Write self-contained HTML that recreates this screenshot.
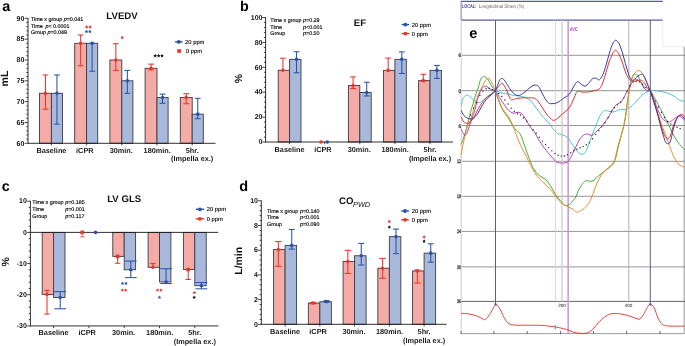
<!DOCTYPE html><html><head><meta charset="utf-8"><style>html,body{margin:0;padding:0;background:#fff;}svg{display:block;will-change:transform;}text{font-family:"Liberation Sans",sans-serif;text-rendering:geometricPrecision;}</style></head><body>
<svg width="685" height="346" viewBox="0 0 685 346">
<rect width="685" height="346" fill="#fff"/>
<text x="2.30" y="11.20" font-size="14.5" font-weight="bold" text-anchor="start" fill="#000" >a</text>
<text x="122.00" y="19.30" font-size="9.6" font-weight="bold" text-anchor="middle" fill="#111" >LVEDV</text>
<text transform="translate(8.4,78.5) rotate(-90)" font-size="10.6" font-weight="bold" text-anchor="middle" fill="#111">mL</text>
<line x1="28.00" y1="17.90" x2="28.00" y2="143.80" stroke="#1a1a1a" stroke-width="0.9" />
<line x1="24.70" y1="143.30" x2="28.00" y2="143.30" stroke="#1a1a1a" stroke-width="0.8" />
<line x1="26.30" y1="139.13" x2="28.00" y2="139.13" stroke="#1a1a1a" stroke-width="0.8" />
<line x1="26.30" y1="134.97" x2="28.00" y2="134.97" stroke="#1a1a1a" stroke-width="0.8" />
<line x1="26.30" y1="130.80" x2="28.00" y2="130.80" stroke="#1a1a1a" stroke-width="0.8" />
<line x1="26.30" y1="126.63" x2="28.00" y2="126.63" stroke="#1a1a1a" stroke-width="0.8" />
<line x1="24.70" y1="122.47" x2="28.00" y2="122.47" stroke="#1a1a1a" stroke-width="0.8" />
<line x1="26.30" y1="118.30" x2="28.00" y2="118.30" stroke="#1a1a1a" stroke-width="0.8" />
<line x1="26.30" y1="114.13" x2="28.00" y2="114.13" stroke="#1a1a1a" stroke-width="0.8" />
<line x1="26.30" y1="109.97" x2="28.00" y2="109.97" stroke="#1a1a1a" stroke-width="0.8" />
<line x1="26.30" y1="105.80" x2="28.00" y2="105.80" stroke="#1a1a1a" stroke-width="0.8" />
<line x1="24.70" y1="101.63" x2="28.00" y2="101.63" stroke="#1a1a1a" stroke-width="0.8" />
<line x1="26.30" y1="97.47" x2="28.00" y2="97.47" stroke="#1a1a1a" stroke-width="0.8" />
<line x1="26.30" y1="93.30" x2="28.00" y2="93.30" stroke="#1a1a1a" stroke-width="0.8" />
<line x1="26.30" y1="89.13" x2="28.00" y2="89.13" stroke="#1a1a1a" stroke-width="0.8" />
<line x1="26.30" y1="84.97" x2="28.00" y2="84.97" stroke="#1a1a1a" stroke-width="0.8" />
<line x1="24.70" y1="80.80" x2="28.00" y2="80.80" stroke="#1a1a1a" stroke-width="0.8" />
<line x1="26.30" y1="76.63" x2="28.00" y2="76.63" stroke="#1a1a1a" stroke-width="0.8" />
<line x1="26.30" y1="72.47" x2="28.00" y2="72.47" stroke="#1a1a1a" stroke-width="0.8" />
<line x1="26.30" y1="68.30" x2="28.00" y2="68.30" stroke="#1a1a1a" stroke-width="0.8" />
<line x1="26.30" y1="64.13" x2="28.00" y2="64.13" stroke="#1a1a1a" stroke-width="0.8" />
<line x1="24.70" y1="59.97" x2="28.00" y2="59.97" stroke="#1a1a1a" stroke-width="0.8" />
<line x1="26.30" y1="55.80" x2="28.00" y2="55.80" stroke="#1a1a1a" stroke-width="0.8" />
<line x1="26.30" y1="51.63" x2="28.00" y2="51.63" stroke="#1a1a1a" stroke-width="0.8" />
<line x1="26.30" y1="47.47" x2="28.00" y2="47.47" stroke="#1a1a1a" stroke-width="0.8" />
<line x1="26.30" y1="43.30" x2="28.00" y2="43.30" stroke="#1a1a1a" stroke-width="0.8" />
<line x1="24.70" y1="39.13" x2="28.00" y2="39.13" stroke="#1a1a1a" stroke-width="0.8" />
<line x1="26.30" y1="34.97" x2="28.00" y2="34.97" stroke="#1a1a1a" stroke-width="0.8" />
<line x1="26.30" y1="30.80" x2="28.00" y2="30.80" stroke="#1a1a1a" stroke-width="0.8" />
<line x1="26.30" y1="26.63" x2="28.00" y2="26.63" stroke="#1a1a1a" stroke-width="0.8" />
<line x1="26.30" y1="22.47" x2="28.00" y2="22.47" stroke="#1a1a1a" stroke-width="0.8" />
<line x1="24.70" y1="18.30" x2="28.00" y2="18.30" stroke="#1a1a1a" stroke-width="0.8" />
<text x="24.30" y="145.50" font-size="7.0" font-weight="bold" text-anchor="end" fill="#111" >60</text>
<text x="24.30" y="124.67" font-size="7.0" font-weight="bold" text-anchor="end" fill="#111" >65</text>
<text x="24.30" y="103.83" font-size="7.0" font-weight="bold" text-anchor="end" fill="#111" >70</text>
<text x="24.30" y="83.00" font-size="7.0" font-weight="bold" text-anchor="end" fill="#111" >75</text>
<text x="24.30" y="62.17" font-size="7.0" font-weight="bold" text-anchor="end" fill="#111" >80</text>
<text x="24.30" y="41.33" font-size="7.0" font-weight="bold" text-anchor="end" fill="#111" >85</text>
<text x="24.30" y="20.50" font-size="7.0" font-weight="bold" text-anchor="end" fill="#111" >90</text>
<rect x="39.50" y="93.30" width="11.90" height="50.00" fill="#f4aba5" stroke="#3c3c44" stroke-width="0.9"/>
<rect x="51.40" y="93.30" width="11.10" height="50.00" fill="#a9b9dc" stroke="#3c3c44" stroke-width="0.9"/>
<line x1="45.45" y1="93.30" x2="45.45" y2="109.13" stroke="#e8352a" stroke-width="1.05" />
<line x1="42.55" y1="109.13" x2="48.35" y2="109.13" stroke="#e8352a" stroke-width="1.05" />
<line x1="45.45" y1="93.30" x2="45.45" y2="74.97" stroke="#e8352a" stroke-width="1.05" />
<line x1="42.55" y1="74.97" x2="48.35" y2="74.97" stroke="#e8352a" stroke-width="1.05" />
<circle cx="45.45" cy="93.30" r="1.8" fill="#e8352a"/>
<line x1="56.95" y1="93.30" x2="56.95" y2="124.13" stroke="#2a53a8" stroke-width="1.05" />
<line x1="54.05" y1="124.13" x2="59.85" y2="124.13" stroke="#2a53a8" stroke-width="1.05" />
<line x1="56.95" y1="93.30" x2="56.95" y2="74.97" stroke="#2a53a8" stroke-width="1.05" />
<line x1="54.05" y1="74.97" x2="59.85" y2="74.97" stroke="#2a53a8" stroke-width="1.05" />
<circle cx="56.95" cy="93.30" r="1.8" fill="#2a53a8"/>
<rect x="74.70" y="43.30" width="11.90" height="100.00" fill="#f4aba5" stroke="#3c3c44" stroke-width="0.9"/>
<rect x="86.60" y="43.30" width="11.10" height="100.00" fill="#a9b9dc" stroke="#3c3c44" stroke-width="0.9"/>
<line x1="80.65" y1="43.30" x2="80.65" y2="65.80" stroke="#e8352a" stroke-width="1.05" />
<line x1="77.75" y1="65.80" x2="83.55" y2="65.80" stroke="#e8352a" stroke-width="1.05" />
<line x1="80.65" y1="43.30" x2="80.65" y2="34.97" stroke="#e8352a" stroke-width="1.05" />
<line x1="77.75" y1="34.97" x2="83.55" y2="34.97" stroke="#e8352a" stroke-width="1.05" />
<circle cx="80.65" cy="43.30" r="1.8" fill="#e8352a"/>
<line x1="92.15" y1="43.30" x2="92.15" y2="71.22" stroke="#2a53a8" stroke-width="1.05" />
<line x1="89.25" y1="71.22" x2="95.05" y2="71.22" stroke="#2a53a8" stroke-width="1.05" />
<line x1="92.15" y1="43.30" x2="92.15" y2="43.30" stroke="#2a53a8" stroke-width="1.05" />
<line x1="89.25" y1="43.30" x2="95.05" y2="43.30" stroke="#2a53a8" stroke-width="1.05" />
<circle cx="92.15" cy="43.30" r="1.8" fill="#2a53a8"/>
<rect x="109.90" y="59.97" width="11.90" height="83.33" fill="#f4aba5" stroke="#3c3c44" stroke-width="0.9"/>
<rect x="121.80" y="80.80" width="11.10" height="62.50" fill="#a9b9dc" stroke="#3c3c44" stroke-width="0.9"/>
<line x1="115.85" y1="59.97" x2="115.85" y2="70.38" stroke="#e8352a" stroke-width="1.05" />
<line x1="112.95" y1="70.38" x2="118.75" y2="70.38" stroke="#e8352a" stroke-width="1.05" />
<line x1="115.85" y1="59.97" x2="115.85" y2="43.72" stroke="#e8352a" stroke-width="1.05" />
<line x1="112.95" y1="43.72" x2="118.75" y2="43.72" stroke="#e8352a" stroke-width="1.05" />
<circle cx="115.85" cy="59.97" r="1.8" fill="#e8352a"/>
<line x1="127.35" y1="80.80" x2="127.35" y2="93.30" stroke="#2a53a8" stroke-width="1.05" />
<line x1="124.45" y1="93.30" x2="130.25" y2="93.30" stroke="#2a53a8" stroke-width="1.05" />
<line x1="127.35" y1="80.80" x2="127.35" y2="70.38" stroke="#2a53a8" stroke-width="1.05" />
<line x1="124.45" y1="70.38" x2="130.25" y2="70.38" stroke="#2a53a8" stroke-width="1.05" />
<circle cx="127.35" cy="80.80" r="1.8" fill="#2a53a8"/>
<rect x="145.10" y="68.30" width="11.90" height="75.00" fill="#f4aba5" stroke="#3c3c44" stroke-width="0.9"/>
<rect x="157.00" y="97.47" width="11.10" height="45.83" fill="#a9b9dc" stroke="#3c3c44" stroke-width="0.9"/>
<line x1="151.05" y1="68.30" x2="151.05" y2="69.97" stroke="#e8352a" stroke-width="1.05" />
<line x1="148.15" y1="69.97" x2="153.95" y2="69.97" stroke="#e8352a" stroke-width="1.05" />
<line x1="151.05" y1="68.30" x2="151.05" y2="64.13" stroke="#e8352a" stroke-width="1.05" />
<line x1="148.15" y1="64.13" x2="153.95" y2="64.13" stroke="#e8352a" stroke-width="1.05" />
<circle cx="151.05" cy="68.30" r="1.8" fill="#e8352a"/>
<line x1="162.55" y1="97.47" x2="162.55" y2="103.30" stroke="#2a53a8" stroke-width="1.05" />
<line x1="159.65" y1="103.30" x2="165.45" y2="103.30" stroke="#2a53a8" stroke-width="1.05" />
<line x1="162.55" y1="97.47" x2="162.55" y2="94.13" stroke="#2a53a8" stroke-width="1.05" />
<line x1="159.65" y1="94.13" x2="165.45" y2="94.13" stroke="#2a53a8" stroke-width="1.05" />
<circle cx="162.55" cy="97.47" r="1.8" fill="#2a53a8"/>
<rect x="180.30" y="97.47" width="11.90" height="45.83" fill="#f4aba5" stroke="#3c3c44" stroke-width="0.9"/>
<rect x="192.20" y="114.13" width="11.10" height="29.17" fill="#a9b9dc" stroke="#3c3c44" stroke-width="0.9"/>
<line x1="186.25" y1="97.47" x2="186.25" y2="103.72" stroke="#e8352a" stroke-width="1.05" />
<line x1="183.35" y1="103.72" x2="189.15" y2="103.72" stroke="#e8352a" stroke-width="1.05" />
<line x1="186.25" y1="97.47" x2="186.25" y2="93.72" stroke="#e8352a" stroke-width="1.05" />
<line x1="183.35" y1="93.72" x2="189.15" y2="93.72" stroke="#e8352a" stroke-width="1.05" />
<circle cx="186.25" cy="97.47" r="1.8" fill="#e8352a"/>
<line x1="197.75" y1="114.13" x2="197.75" y2="118.72" stroke="#2a53a8" stroke-width="1.05" />
<line x1="194.85" y1="118.72" x2="200.65" y2="118.72" stroke="#2a53a8" stroke-width="1.05" />
<line x1="197.75" y1="114.13" x2="197.75" y2="98.30" stroke="#2a53a8" stroke-width="1.05" />
<line x1="194.85" y1="98.30" x2="200.65" y2="98.30" stroke="#2a53a8" stroke-width="1.05" />
<circle cx="197.75" cy="114.13" r="1.8" fill="#2a53a8"/>
<line x1="28.00" y1="143.30" x2="215.50" y2="143.30" stroke="#1a1a1a" stroke-width="0.9" />
<line x1="51.40" y1="143.30" x2="51.40" y2="145.50" stroke="#1a1a1a" stroke-width="0.8" />
<line x1="86.60" y1="143.30" x2="86.60" y2="145.50" stroke="#1a1a1a" stroke-width="0.8" />
<line x1="121.80" y1="143.30" x2="121.80" y2="145.50" stroke="#1a1a1a" stroke-width="0.8" />
<line x1="157.00" y1="143.30" x2="157.00" y2="145.50" stroke="#1a1a1a" stroke-width="0.8" />
<line x1="192.20" y1="143.30" x2="192.20" y2="145.50" stroke="#1a1a1a" stroke-width="0.8" />
<text x="51.40" y="152.60" font-size="7.3" font-weight="bold" text-anchor="middle" fill="#1a1a1a" >Baseline</text>
<text x="84.80" y="152.60" font-size="7.3" font-weight="bold" text-anchor="middle" fill="#1a1a1a" >iCPR</text>
<text x="121.20" y="152.60" font-size="7.3" font-weight="bold" text-anchor="middle" fill="#1a1a1a" >30min.</text>
<text x="157.20" y="152.60" font-size="7.3" font-weight="bold" text-anchor="middle" fill="#1a1a1a" >180min.</text>
<text x="192.20" y="152.60" font-size="7.3" font-weight="bold" text-anchor="middle" fill="#1a1a1a" >5hr.</text>
<text x="192.20" y="161.20" font-size="7.3" font-weight="bold" text-anchor="middle" fill="#1a1a1a" >(Impella ex.)</text>
<text x="31.00" y="20.90" font-size="5.38" fill="#000" stroke="#000" stroke-width="0.14">Time x group <tspan font-style="italic">p</tspan>=0.041</text>
<text x="31.00" y="34.40" font-size="5.38" fill="#000" stroke="#000" stroke-width="0.14">Group <tspan font-style="italic">p</tspan>=0.049</text>
<text x="31.00" y="27.60" font-size="5.38" font-weight="normal" text-anchor="start" fill="#000" stroke="#000" stroke-width="0.14">Time</text>
<text x="45.40" y="27.60" font-size="5.38" fill="#000" stroke="#000" stroke-width="0.14"><tspan font-style="italic">p</tspan>&lt; 0.0001</text>
<polygon points="86.70,25.10 87.24,26.31 88.55,26.45 87.57,27.33 87.85,28.63 86.70,27.97 85.55,28.63 85.83,27.33 84.85,26.45 86.16,26.31" fill="#e8352a"/>
<polygon points="90.10,25.10 90.64,26.31 91.95,26.45 90.97,27.33 91.25,28.63 90.10,27.97 88.95,28.63 89.23,27.33 88.25,26.45 89.56,26.31" fill="#e8352a"/>
<polygon points="86.50,29.60 87.04,30.81 88.35,30.95 87.37,31.83 87.65,33.13 86.50,32.47 85.35,33.13 85.63,31.83 84.65,30.95 85.96,30.81" fill="#2a53a8"/>
<polygon points="89.90,29.60 90.44,30.81 91.75,30.95 90.77,31.83 91.05,33.13 89.90,32.47 88.75,33.13 89.03,31.83 88.05,30.95 89.36,30.81" fill="#2a53a8"/>
<polygon points="122.20,35.65 122.74,36.86 124.05,37.00 123.07,37.88 123.35,39.18 122.20,38.52 121.05,39.18 121.33,37.88 120.35,37.00 121.66,36.86" fill="#e8352a"/>
<polygon points="155.20,53.85 155.74,55.06 157.05,55.20 156.07,56.08 156.35,57.38 155.20,56.72 154.05,57.38 154.33,56.08 153.35,55.20 154.66,55.06" fill="#111"/>
<polygon points="158.60,53.85 159.14,55.06 160.45,55.20 159.47,56.08 159.75,57.38 158.60,56.72 157.45,57.38 157.73,56.08 156.75,55.20 158.06,55.06" fill="#111"/>
<polygon points="162.00,53.85 162.54,55.06 163.85,55.20 162.87,56.08 163.15,57.38 162.00,56.72 160.85,57.38 161.13,56.08 160.15,55.20 161.46,55.06" fill="#111"/>
<line x1="175.00" y1="41.90" x2="182.60" y2="41.90" stroke="#2a53a8" stroke-width="1.4" />
<circle cx="178.80" cy="41.90" r="1.9" fill="#2a53a8"/>
<text x="185.10" y="43.90" font-size="5.8" font-weight="normal" text-anchor="start" fill="#000" stroke="#000" stroke-width="0.12">20 ppm</text>
<rect x="177.30" y="49.20" width="3.80" height="3.60" fill="#e8352a" stroke="none" stroke-width="0"/>
<text x="186.00" y="53.00" font-size="5.8" font-weight="normal" text-anchor="start" fill="#000" stroke="#000" stroke-width="0.12">0 ppm</text>
<text x="239.90" y="11.10" font-size="14.3" font-weight="bold" text-anchor="start" fill="#000" >b</text>
<text x="360.00" y="25.50" font-size="9.6" font-weight="bold" text-anchor="middle" fill="#111" >EF</text>
<text transform="translate(242.3,78.5) rotate(-90)" font-size="10.5" font-weight="bold" text-anchor="middle" fill="#111">%</text>
<line x1="265.60" y1="17.10" x2="265.60" y2="142.50" stroke="#1a1a1a" stroke-width="0.9" />
<line x1="262.30" y1="142.00" x2="265.60" y2="142.00" stroke="#1a1a1a" stroke-width="0.8" />
<line x1="263.90" y1="137.02" x2="265.60" y2="137.02" stroke="#1a1a1a" stroke-width="0.8" />
<line x1="263.90" y1="132.04" x2="265.60" y2="132.04" stroke="#1a1a1a" stroke-width="0.8" />
<line x1="263.90" y1="127.06" x2="265.60" y2="127.06" stroke="#1a1a1a" stroke-width="0.8" />
<line x1="263.90" y1="122.08" x2="265.60" y2="122.08" stroke="#1a1a1a" stroke-width="0.8" />
<line x1="262.30" y1="117.10" x2="265.60" y2="117.10" stroke="#1a1a1a" stroke-width="0.8" />
<line x1="263.90" y1="112.12" x2="265.60" y2="112.12" stroke="#1a1a1a" stroke-width="0.8" />
<line x1="263.90" y1="107.14" x2="265.60" y2="107.14" stroke="#1a1a1a" stroke-width="0.8" />
<line x1="263.90" y1="102.16" x2="265.60" y2="102.16" stroke="#1a1a1a" stroke-width="0.8" />
<line x1="263.90" y1="97.18" x2="265.60" y2="97.18" stroke="#1a1a1a" stroke-width="0.8" />
<line x1="262.30" y1="92.20" x2="265.60" y2="92.20" stroke="#1a1a1a" stroke-width="0.8" />
<line x1="263.90" y1="87.22" x2="265.60" y2="87.22" stroke="#1a1a1a" stroke-width="0.8" />
<line x1="263.90" y1="82.24" x2="265.60" y2="82.24" stroke="#1a1a1a" stroke-width="0.8" />
<line x1="263.90" y1="77.26" x2="265.60" y2="77.26" stroke="#1a1a1a" stroke-width="0.8" />
<line x1="263.90" y1="72.28" x2="265.60" y2="72.28" stroke="#1a1a1a" stroke-width="0.8" />
<line x1="262.30" y1="67.30" x2="265.60" y2="67.30" stroke="#1a1a1a" stroke-width="0.8" />
<line x1="263.90" y1="62.32" x2="265.60" y2="62.32" stroke="#1a1a1a" stroke-width="0.8" />
<line x1="263.90" y1="57.34" x2="265.60" y2="57.34" stroke="#1a1a1a" stroke-width="0.8" />
<line x1="263.90" y1="52.36" x2="265.60" y2="52.36" stroke="#1a1a1a" stroke-width="0.8" />
<line x1="263.90" y1="47.38" x2="265.60" y2="47.38" stroke="#1a1a1a" stroke-width="0.8" />
<line x1="262.30" y1="42.40" x2="265.60" y2="42.40" stroke="#1a1a1a" stroke-width="0.8" />
<line x1="263.90" y1="37.42" x2="265.60" y2="37.42" stroke="#1a1a1a" stroke-width="0.8" />
<line x1="263.90" y1="32.44" x2="265.60" y2="32.44" stroke="#1a1a1a" stroke-width="0.8" />
<line x1="263.90" y1="27.46" x2="265.60" y2="27.46" stroke="#1a1a1a" stroke-width="0.8" />
<line x1="263.90" y1="22.48" x2="265.60" y2="22.48" stroke="#1a1a1a" stroke-width="0.8" />
<line x1="262.30" y1="17.50" x2="265.60" y2="17.50" stroke="#1a1a1a" stroke-width="0.8" />
<text x="262.50" y="144.20" font-size="7.0" font-weight="bold" text-anchor="end" fill="#111" >0</text>
<text x="262.50" y="119.30" font-size="7.0" font-weight="bold" text-anchor="end" fill="#111" >20</text>
<text x="262.50" y="94.40" font-size="7.0" font-weight="bold" text-anchor="end" fill="#111" >40</text>
<text x="262.50" y="69.50" font-size="7.0" font-weight="bold" text-anchor="end" fill="#111" >60</text>
<text x="262.50" y="44.60" font-size="7.0" font-weight="bold" text-anchor="end" fill="#111" >80</text>
<text x="262.50" y="19.70" font-size="7.0" font-weight="bold" text-anchor="end" fill="#111" >100</text>
<rect x="278.20" y="70.29" width="11.40" height="71.71" fill="#f4aba5" stroke="#3c3c44" stroke-width="0.9"/>
<rect x="289.60" y="59.33" width="11.40" height="82.67" fill="#a9b9dc" stroke="#3c3c44" stroke-width="0.9"/>
<line x1="282.90" y1="70.29" x2="282.90" y2="58.21" stroke="#e8352a" stroke-width="1.05" />
<line x1="280.00" y1="58.21" x2="285.80" y2="58.21" stroke="#e8352a" stroke-width="1.05" />
<circle cx="282.90" cy="70.29" r="1.8" fill="#e8352a"/>
<line x1="296.50" y1="59.33" x2="296.50" y2="72.78" stroke="#2a53a8" stroke-width="1.05" />
<line x1="293.60" y1="72.78" x2="299.40" y2="72.78" stroke="#2a53a8" stroke-width="1.05" />
<line x1="296.50" y1="59.33" x2="296.50" y2="51.74" stroke="#2a53a8" stroke-width="1.05" />
<line x1="293.60" y1="51.74" x2="299.40" y2="51.74" stroke="#2a53a8" stroke-width="1.05" />
<circle cx="296.50" cy="59.33" r="1.8" fill="#2a53a8"/>
<rect x="348.40" y="85.48" width="11.40" height="56.52" fill="#f4aba5" stroke="#3c3c44" stroke-width="0.9"/>
<rect x="359.80" y="92.45" width="11.40" height="49.55" fill="#a9b9dc" stroke="#3c3c44" stroke-width="0.9"/>
<line x1="353.10" y1="85.48" x2="353.10" y2="88.47" stroke="#e8352a" stroke-width="1.05" />
<line x1="350.20" y1="88.47" x2="356.00" y2="88.47" stroke="#e8352a" stroke-width="1.05" />
<line x1="353.10" y1="85.48" x2="353.10" y2="76.89" stroke="#e8352a" stroke-width="1.05" />
<line x1="350.20" y1="76.89" x2="356.00" y2="76.89" stroke="#e8352a" stroke-width="1.05" />
<circle cx="353.10" cy="85.48" r="1.8" fill="#e8352a"/>
<line x1="366.70" y1="92.45" x2="366.70" y2="95.94" stroke="#2a53a8" stroke-width="1.05" />
<line x1="363.80" y1="95.94" x2="369.60" y2="95.94" stroke="#2a53a8" stroke-width="1.05" />
<line x1="366.70" y1="92.45" x2="366.70" y2="82.24" stroke="#2a53a8" stroke-width="1.05" />
<line x1="363.80" y1="82.24" x2="369.60" y2="82.24" stroke="#2a53a8" stroke-width="1.05" />
<circle cx="366.70" cy="92.45" r="1.8" fill="#2a53a8"/>
<rect x="383.50" y="70.41" width="11.40" height="71.59" fill="#f4aba5" stroke="#3c3c44" stroke-width="0.9"/>
<rect x="394.90" y="59.33" width="11.40" height="82.67" fill="#a9b9dc" stroke="#3c3c44" stroke-width="0.9"/>
<line x1="388.20" y1="70.41" x2="388.20" y2="58.09" stroke="#e8352a" stroke-width="1.05" />
<line x1="385.30" y1="58.09" x2="391.10" y2="58.09" stroke="#e8352a" stroke-width="1.05" />
<circle cx="388.20" cy="70.41" r="1.8" fill="#e8352a"/>
<line x1="401.80" y1="59.33" x2="401.80" y2="73.40" stroke="#2a53a8" stroke-width="1.05" />
<line x1="398.90" y1="73.40" x2="404.70" y2="73.40" stroke="#2a53a8" stroke-width="1.05" />
<line x1="401.80" y1="59.33" x2="401.80" y2="51.86" stroke="#2a53a8" stroke-width="1.05" />
<line x1="398.90" y1="51.86" x2="404.70" y2="51.86" stroke="#2a53a8" stroke-width="1.05" />
<circle cx="401.80" cy="59.33" r="1.8" fill="#2a53a8"/>
<rect x="418.60" y="80.62" width="11.40" height="61.38" fill="#f4aba5" stroke="#3c3c44" stroke-width="0.9"/>
<rect x="430.00" y="70.41" width="11.40" height="71.59" fill="#a9b9dc" stroke="#3c3c44" stroke-width="0.9"/>
<line x1="423.30" y1="80.62" x2="423.30" y2="81.24" stroke="#e8352a" stroke-width="1.05" />
<line x1="420.40" y1="81.24" x2="426.20" y2="81.24" stroke="#e8352a" stroke-width="1.05" />
<line x1="423.30" y1="80.62" x2="423.30" y2="74.27" stroke="#e8352a" stroke-width="1.05" />
<line x1="420.40" y1="74.27" x2="426.20" y2="74.27" stroke="#e8352a" stroke-width="1.05" />
<circle cx="423.30" cy="80.62" r="1.8" fill="#e8352a"/>
<line x1="436.90" y1="70.41" x2="436.90" y2="78.38" stroke="#2a53a8" stroke-width="1.05" />
<line x1="434.00" y1="78.38" x2="439.80" y2="78.38" stroke="#2a53a8" stroke-width="1.05" />
<line x1="436.90" y1="70.41" x2="436.90" y2="65.43" stroke="#2a53a8" stroke-width="1.05" />
<line x1="434.00" y1="65.43" x2="439.80" y2="65.43" stroke="#2a53a8" stroke-width="1.05" />
<circle cx="436.90" cy="70.41" r="1.8" fill="#2a53a8"/>
<line x1="265.60" y1="142.00" x2="453.00" y2="142.00" stroke="#1a1a1a" stroke-width="0.9" />
<circle cx="321.00" cy="142.00" r="1.8" fill="#e8352a"/>
<circle cx="327.30" cy="142.00" r="1.8" fill="#2a53a8"/>
<line x1="289.60" y1="142.00" x2="289.60" y2="144.20" stroke="#1a1a1a" stroke-width="0.8" />
<line x1="324.70" y1="142.00" x2="324.70" y2="144.20" stroke="#1a1a1a" stroke-width="0.8" />
<line x1="359.80" y1="142.00" x2="359.80" y2="144.20" stroke="#1a1a1a" stroke-width="0.8" />
<line x1="394.90" y1="142.00" x2="394.90" y2="144.20" stroke="#1a1a1a" stroke-width="0.8" />
<line x1="430.00" y1="142.00" x2="430.00" y2="144.20" stroke="#1a1a1a" stroke-width="0.8" />
<text x="289.60" y="152.40" font-size="7.3" font-weight="bold" text-anchor="middle" fill="#1a1a1a" >Baseline</text>
<text x="322.90" y="152.40" font-size="7.3" font-weight="bold" text-anchor="middle" fill="#1a1a1a" >iCPR</text>
<text x="359.20" y="152.40" font-size="7.3" font-weight="bold" text-anchor="middle" fill="#1a1a1a" >30min.</text>
<text x="395.10" y="152.40" font-size="7.3" font-weight="bold" text-anchor="middle" fill="#1a1a1a" >180min.</text>
<text x="430.00" y="152.40" font-size="7.3" font-weight="bold" text-anchor="middle" fill="#1a1a1a" >5hr.</text>
<text x="430.00" y="161.00" font-size="7.3" font-weight="bold" text-anchor="middle" fill="#1a1a1a" >(Impella ex.)</text>
<text x="270.30" y="22.30" font-size="5.38" font-weight="normal" text-anchor="start" fill="#000" stroke="#000" stroke-width="0.14">Time x group </text>
<text x="303.00" y="22.30" font-size="5.38" fill="#000" stroke="#000" stroke-width="0.14"><tspan font-style="italic">p</tspan>=0.29</text>
<text x="270.30" y="28.80" font-size="5.38" font-weight="normal" text-anchor="start" fill="#000" stroke="#000" stroke-width="0.14">Time</text>
<text x="303.00" y="28.80" font-size="5.38" fill="#000" stroke="#000" stroke-width="0.14"><tspan font-style="italic">p</tspan>&lt;0.001</text>
<text x="270.30" y="35.00" font-size="5.38" font-weight="normal" text-anchor="start" fill="#000" stroke="#000" stroke-width="0.14">Group</text>
<text x="303.00" y="35.00" font-size="5.38" fill="#000" stroke="#000" stroke-width="0.14"><tspan font-style="italic">p</tspan>=0.50</text>
<line x1="401.70" y1="24.60" x2="409.10" y2="24.60" stroke="#2a53a8" stroke-width="1.4" />
<circle cx="405.40" cy="24.60" r="1.9" fill="#2a53a8"/>
<text x="411.80" y="26.60" font-size="5.8" font-weight="normal" text-anchor="start" fill="#000" stroke="#000" stroke-width="0.12">20 ppm</text>
<line x1="401.70" y1="33.60" x2="409.10" y2="33.60" stroke="#e8352a" stroke-width="1.4" />
<circle cx="405.40" cy="33.60" r="1.9" fill="#e8352a"/>
<text x="411.80" y="35.60" font-size="5.8" font-weight="normal" text-anchor="start" fill="#000" stroke="#000" stroke-width="0.12">0 ppm</text>
<text x="1.80" y="190.90" font-size="14.5" font-weight="bold" text-anchor="start" fill="#000" >c</text>
<text x="124.20" y="202.10" font-size="9.6" font-weight="bold" text-anchor="middle" fill="#111" >LV GLS</text>
<text transform="translate(9.0,261.9) rotate(-90)" font-size="10.5" font-weight="bold" text-anchor="middle" fill="#111">%</text>
<line x1="30.40" y1="200.83" x2="30.40" y2="326.41" stroke="#1a1a1a" stroke-width="0.9" />
<line x1="27.10" y1="325.91" x2="30.40" y2="325.91" stroke="#1a1a1a" stroke-width="0.8" />
<line x1="28.70" y1="319.68" x2="30.40" y2="319.68" stroke="#1a1a1a" stroke-width="0.8" />
<line x1="28.70" y1="313.44" x2="30.40" y2="313.44" stroke="#1a1a1a" stroke-width="0.8" />
<line x1="28.70" y1="307.21" x2="30.40" y2="307.21" stroke="#1a1a1a" stroke-width="0.8" />
<line x1="28.70" y1="300.97" x2="30.40" y2="300.97" stroke="#1a1a1a" stroke-width="0.8" />
<line x1="27.10" y1="294.74" x2="30.40" y2="294.74" stroke="#1a1a1a" stroke-width="0.8" />
<line x1="28.70" y1="288.51" x2="30.40" y2="288.51" stroke="#1a1a1a" stroke-width="0.8" />
<line x1="28.70" y1="282.27" x2="30.40" y2="282.27" stroke="#1a1a1a" stroke-width="0.8" />
<line x1="28.70" y1="276.04" x2="30.40" y2="276.04" stroke="#1a1a1a" stroke-width="0.8" />
<line x1="28.70" y1="269.80" x2="30.40" y2="269.80" stroke="#1a1a1a" stroke-width="0.8" />
<line x1="27.10" y1="263.57" x2="30.40" y2="263.57" stroke="#1a1a1a" stroke-width="0.8" />
<line x1="28.70" y1="257.34" x2="30.40" y2="257.34" stroke="#1a1a1a" stroke-width="0.8" />
<line x1="28.70" y1="251.10" x2="30.40" y2="251.10" stroke="#1a1a1a" stroke-width="0.8" />
<line x1="28.70" y1="244.87" x2="30.40" y2="244.87" stroke="#1a1a1a" stroke-width="0.8" />
<line x1="28.70" y1="238.63" x2="30.40" y2="238.63" stroke="#1a1a1a" stroke-width="0.8" />
<line x1="27.10" y1="232.40" x2="30.40" y2="232.40" stroke="#1a1a1a" stroke-width="0.8" />
<line x1="28.70" y1="226.17" x2="30.40" y2="226.17" stroke="#1a1a1a" stroke-width="0.8" />
<line x1="28.70" y1="219.93" x2="30.40" y2="219.93" stroke="#1a1a1a" stroke-width="0.8" />
<line x1="28.70" y1="213.70" x2="30.40" y2="213.70" stroke="#1a1a1a" stroke-width="0.8" />
<line x1="28.70" y1="207.46" x2="30.40" y2="207.46" stroke="#1a1a1a" stroke-width="0.8" />
<line x1="27.10" y1="201.23" x2="30.40" y2="201.23" stroke="#1a1a1a" stroke-width="0.8" />
<text x="26.80" y="328.11" font-size="7.0" font-weight="bold" text-anchor="end" fill="#111" >-30</text>
<text x="26.80" y="296.94" font-size="7.0" font-weight="bold" text-anchor="end" fill="#111" >-20</text>
<text x="26.80" y="265.77" font-size="7.0" font-weight="bold" text-anchor="end" fill="#111" >-10</text>
<text x="26.80" y="234.60" font-size="7.0" font-weight="bold" text-anchor="end" fill="#111" >0</text>
<text x="26.80" y="203.43" font-size="7.0" font-weight="bold" text-anchor="end" fill="#111" >10</text>
<rect x="42.20" y="232.40" width="11.40" height="62.03" fill="#f4aba5" stroke="#3c3c44" stroke-width="0.9"/>
<rect x="53.60" y="232.40" width="11.40" height="65.15" fill="#a9b9dc" stroke="#3c3c44" stroke-width="0.9"/>
<line x1="47.00" y1="294.43" x2="47.00" y2="290.38" stroke="#e8352a" stroke-width="1.05" />
<line x1="44.30" y1="290.38" x2="49.70" y2="290.38" stroke="#e8352a" stroke-width="1.05" />
<line x1="47.00" y1="294.43" x2="47.00" y2="314.07" stroke="#e8352a" stroke-width="1.05" />
<line x1="44.30" y1="314.07" x2="49.70" y2="314.07" stroke="#e8352a" stroke-width="1.05" />
<circle cx="47.00" cy="294.43" r="1.8" fill="#e8352a"/>
<line x1="60.20" y1="297.55" x2="60.20" y2="291.62" stroke="#2a53a8" stroke-width="1.05" />
<line x1="54.30" y1="291.62" x2="66.10" y2="291.62" stroke="#2a53a8" stroke-width="1.05" />
<line x1="60.20" y1="297.55" x2="60.20" y2="308.77" stroke="#2a53a8" stroke-width="1.05" />
<line x1="54.30" y1="308.77" x2="66.10" y2="308.77" stroke="#2a53a8" stroke-width="1.05" />
<circle cx="60.20" cy="297.55" r="1.8" fill="#2a53a8"/>
<rect x="112.80" y="232.40" width="11.40" height="24.00" fill="#f4aba5" stroke="#3c3c44" stroke-width="0.9"/>
<rect x="124.20" y="232.40" width="11.40" height="37.40" fill="#a9b9dc" stroke="#3c3c44" stroke-width="0.9"/>
<line x1="117.60" y1="256.40" x2="117.60" y2="263.26" stroke="#e8352a" stroke-width="1.05" />
<line x1="114.90" y1="263.26" x2="120.30" y2="263.26" stroke="#e8352a" stroke-width="1.05" />
<rect x="115.80" y="254.60" width="3.60" height="3.60" fill="#e8352a" stroke="none" stroke-width="0"/>
<line x1="130.80" y1="269.80" x2="130.80" y2="261.08" stroke="#2a53a8" stroke-width="1.05" />
<line x1="124.90" y1="261.08" x2="136.70" y2="261.08" stroke="#2a53a8" stroke-width="1.05" />
<line x1="130.80" y1="269.80" x2="130.80" y2="277.60" stroke="#2a53a8" stroke-width="1.05" />
<line x1="124.90" y1="277.60" x2="136.70" y2="277.60" stroke="#2a53a8" stroke-width="1.05" />
<circle cx="130.80" cy="269.80" r="1.8" fill="#2a53a8"/>
<rect x="148.10" y="232.40" width="11.40" height="34.91" fill="#f4aba5" stroke="#3c3c44" stroke-width="0.9"/>
<rect x="159.50" y="232.40" width="11.40" height="49.56" fill="#a9b9dc" stroke="#3c3c44" stroke-width="0.9"/>
<line x1="152.90" y1="267.31" x2="152.90" y2="263.57" stroke="#e8352a" stroke-width="1.05" />
<line x1="150.20" y1="263.57" x2="155.60" y2="263.57" stroke="#e8352a" stroke-width="1.05" />
<circle cx="152.90" cy="267.31" r="1.8" fill="#e8352a"/>
<line x1="166.10" y1="281.96" x2="166.10" y2="268.71" stroke="#2a53a8" stroke-width="1.05" />
<line x1="160.20" y1="268.71" x2="172.00" y2="268.71" stroke="#2a53a8" stroke-width="1.05" />
<line x1="166.10" y1="281.96" x2="166.10" y2="283.52" stroke="#2a53a8" stroke-width="1.05" />
<line x1="160.20" y1="283.52" x2="172.00" y2="283.52" stroke="#2a53a8" stroke-width="1.05" />
<circle cx="166.10" cy="281.96" r="1.8" fill="#2a53a8"/>
<rect x="183.40" y="232.40" width="11.40" height="37.09" fill="#f4aba5" stroke="#3c3c44" stroke-width="0.9"/>
<rect x="194.80" y="232.40" width="11.40" height="53.30" fill="#a9b9dc" stroke="#3c3c44" stroke-width="0.9"/>
<line x1="188.20" y1="269.49" x2="188.20" y2="279.47" stroke="#e8352a" stroke-width="1.05" />
<line x1="185.50" y1="279.47" x2="190.90" y2="279.47" stroke="#e8352a" stroke-width="1.05" />
<rect x="186.40" y="267.69" width="3.60" height="3.60" fill="#e8352a" stroke="none" stroke-width="0"/>
<line x1="201.40" y1="285.70" x2="201.40" y2="282.58" stroke="#2a53a8" stroke-width="1.05" />
<line x1="195.50" y1="282.58" x2="207.30" y2="282.58" stroke="#2a53a8" stroke-width="1.05" />
<line x1="201.40" y1="285.70" x2="201.40" y2="288.82" stroke="#2a53a8" stroke-width="1.05" />
<line x1="195.50" y1="288.82" x2="207.30" y2="288.82" stroke="#2a53a8" stroke-width="1.05" />
<circle cx="201.40" cy="285.70" r="1.8" fill="#2a53a8"/>
<line x1="30.40" y1="232.40" x2="218.30" y2="232.40" stroke="#1a1a1a" stroke-width="0.9" />
<line x1="30.40" y1="325.91" x2="218.30" y2="325.91" stroke="#1a1a1a" stroke-width="0.9" />
<rect x="80.40" y="230.60" width="3.60" height="3.60" fill="#e8352a" stroke="none" stroke-width="0"/>
<line x1="82.20" y1="232.40" x2="82.20" y2="236.90" stroke="#ee5a4f" stroke-width="0.9" />
<line x1="79.80" y1="236.90" x2="84.80" y2="236.90" stroke="#ee5a4f" stroke-width="0.9" />
<circle cx="95.50" cy="232.40" r="1.8" fill="#2a53a8"/>
<line x1="53.60" y1="325.91" x2="53.60" y2="328.11" stroke="#1a1a1a" stroke-width="0.8" />
<line x1="88.90" y1="325.91" x2="88.90" y2="328.11" stroke="#1a1a1a" stroke-width="0.8" />
<line x1="124.20" y1="325.91" x2="124.20" y2="328.11" stroke="#1a1a1a" stroke-width="0.8" />
<line x1="159.50" y1="325.91" x2="159.50" y2="328.11" stroke="#1a1a1a" stroke-width="0.8" />
<line x1="194.80" y1="325.91" x2="194.80" y2="328.11" stroke="#1a1a1a" stroke-width="0.8" />
<text x="53.60" y="335.30" font-size="7.3" font-weight="bold" text-anchor="middle" fill="#1a1a1a" >Baseline</text>
<text x="87.10" y="335.30" font-size="7.3" font-weight="bold" text-anchor="middle" fill="#1a1a1a" >iCPR</text>
<text x="123.60" y="335.30" font-size="7.3" font-weight="bold" text-anchor="middle" fill="#1a1a1a" >30min.</text>
<text x="159.70" y="335.30" font-size="7.3" font-weight="bold" text-anchor="middle" fill="#1a1a1a" >180min.</text>
<text x="194.80" y="335.30" font-size="7.3" font-weight="bold" text-anchor="middle" fill="#1a1a1a" >5hr.</text>
<text x="194.80" y="343.60" font-size="7.3" font-weight="bold" text-anchor="middle" fill="#1a1a1a" >(Impella ex.)</text>
<text x="32.30" y="204.10" font-size="5.38" font-weight="normal" text-anchor="start" fill="#000" stroke="#000" stroke-width="0.14">Time x group </text>
<text x="65.20" y="204.10" font-size="5.38" fill="#000" stroke="#000" stroke-width="0.14"><tspan font-style="italic">p</tspan>=0.185</text>
<text x="32.30" y="210.90" font-size="5.38" font-weight="normal" text-anchor="start" fill="#000" stroke="#000" stroke-width="0.14">Time</text>
<text x="65.20" y="210.90" font-size="5.38" fill="#000" stroke="#000" stroke-width="0.14"><tspan font-style="italic">p</tspan>=0.001</text>
<text x="32.30" y="217.60" font-size="5.38" font-weight="normal" text-anchor="start" fill="#000" stroke="#000" stroke-width="0.14">Group</text>
<text x="65.20" y="217.60" font-size="5.38" fill="#000" stroke="#000" stroke-width="0.14"><tspan font-style="italic">p</tspan>=0.117</text>
<line x1="195.80" y1="209.30" x2="204.00" y2="209.30" stroke="#2a53a8" stroke-width="1.4" />
<circle cx="199.90" cy="209.30" r="1.9" fill="#2a53a8"/>
<text x="206.70" y="211.30" font-size="5.8" font-weight="normal" text-anchor="start" fill="#000" stroke="#000" stroke-width="0.12">20 ppm</text>
<line x1="195.80" y1="218.80" x2="204.00" y2="218.80" stroke="#e8352a" stroke-width="1.4" />
<circle cx="199.90" cy="218.80" r="1.9" fill="#e8352a"/>
<text x="206.70" y="220.80" font-size="5.8" font-weight="normal" text-anchor="start" fill="#000" stroke="#000" stroke-width="0.12">0 ppm</text>
<polygon points="122.60,281.45 123.14,282.66 124.45,282.80 123.47,283.68 123.75,284.98 122.60,284.32 121.45,284.98 121.73,283.68 120.75,282.80 122.06,282.66" fill="#2a53a8"/>
<polygon points="126.00,281.45 126.54,282.66 127.85,282.80 126.87,283.68 127.15,284.98 126.00,284.32 124.85,284.98 125.13,283.68 124.15,282.80 125.46,282.66" fill="#2a53a8"/>
<polygon points="122.30,288.25 122.84,289.46 124.15,289.60 123.17,290.48 123.45,291.78 122.30,291.12 121.15,291.78 121.43,290.48 120.45,289.60 121.76,289.46" fill="#e8352a"/>
<polygon points="125.70,288.25 126.24,289.46 127.55,289.60 126.57,290.48 126.85,291.78 125.70,291.12 124.55,291.78 124.83,290.48 123.85,289.60 125.16,289.46" fill="#e8352a"/>
<polygon points="157.50,288.25 158.04,289.46 159.35,289.60 158.37,290.48 158.65,291.78 157.50,291.12 156.35,291.78 156.63,290.48 155.65,289.60 156.96,289.46" fill="#e8352a"/>
<polygon points="160.90,288.25 161.44,289.46 162.75,289.60 161.77,290.48 162.05,291.78 160.90,291.12 159.75,291.78 160.03,290.48 159.05,289.60 160.36,289.46" fill="#e8352a"/>
<polygon points="159.40,295.45 159.94,296.66 161.25,296.80 160.27,297.68 160.55,298.98 159.40,298.32 158.25,298.98 158.53,297.68 157.55,296.80 158.86,296.66" fill="#2a53a8"/>
<polygon points="194.40,290.75 194.94,291.96 196.25,292.10 195.27,292.98 195.55,294.28 194.40,293.62 193.25,294.28 193.53,292.98 192.55,292.10 193.86,291.96" fill="#e8352a"/>
<polygon points="194.20,295.45 194.74,296.66 196.05,296.80 195.07,297.68 195.35,298.98 194.20,298.32 193.05,298.98 193.33,297.68 192.35,296.80 193.66,296.66" fill="#111"/>
<text x="239.20" y="191.10" font-size="14.5" font-weight="bold" text-anchor="start" fill="#000" >d</text>
<text x="339.00" y="204.20" font-size="9.6" font-weight="bold" text-anchor="start" fill="#111" >CO</text>
<text x="353.10" y="207.10" font-size="7.3" font-weight="normal" text-anchor="start" fill="#111" font-style="italic" >PWD</text>
<text transform="translate(242.3,260.8) rotate(-90)" font-size="10.4" font-weight="bold" text-anchor="middle" fill="#111">L/min</text>
<line x1="261.30" y1="200.40" x2="261.30" y2="324.80" stroke="#1a1a1a" stroke-width="0.9" />
<line x1="258.00" y1="324.30" x2="261.30" y2="324.30" stroke="#1a1a1a" stroke-width="0.8" />
<line x1="259.60" y1="319.36" x2="261.30" y2="319.36" stroke="#1a1a1a" stroke-width="0.8" />
<line x1="259.60" y1="314.42" x2="261.30" y2="314.42" stroke="#1a1a1a" stroke-width="0.8" />
<line x1="259.60" y1="309.48" x2="261.30" y2="309.48" stroke="#1a1a1a" stroke-width="0.8" />
<line x1="259.60" y1="304.54" x2="261.30" y2="304.54" stroke="#1a1a1a" stroke-width="0.8" />
<line x1="258.00" y1="299.60" x2="261.30" y2="299.60" stroke="#1a1a1a" stroke-width="0.8" />
<line x1="259.60" y1="294.66" x2="261.30" y2="294.66" stroke="#1a1a1a" stroke-width="0.8" />
<line x1="259.60" y1="289.72" x2="261.30" y2="289.72" stroke="#1a1a1a" stroke-width="0.8" />
<line x1="259.60" y1="284.78" x2="261.30" y2="284.78" stroke="#1a1a1a" stroke-width="0.8" />
<line x1="259.60" y1="279.84" x2="261.30" y2="279.84" stroke="#1a1a1a" stroke-width="0.8" />
<line x1="258.00" y1="274.90" x2="261.30" y2="274.90" stroke="#1a1a1a" stroke-width="0.8" />
<line x1="259.60" y1="269.96" x2="261.30" y2="269.96" stroke="#1a1a1a" stroke-width="0.8" />
<line x1="259.60" y1="265.02" x2="261.30" y2="265.02" stroke="#1a1a1a" stroke-width="0.8" />
<line x1="259.60" y1="260.08" x2="261.30" y2="260.08" stroke="#1a1a1a" stroke-width="0.8" />
<line x1="259.60" y1="255.14" x2="261.30" y2="255.14" stroke="#1a1a1a" stroke-width="0.8" />
<line x1="258.00" y1="250.20" x2="261.30" y2="250.20" stroke="#1a1a1a" stroke-width="0.8" />
<line x1="259.60" y1="245.26" x2="261.30" y2="245.26" stroke="#1a1a1a" stroke-width="0.8" />
<line x1="259.60" y1="240.32" x2="261.30" y2="240.32" stroke="#1a1a1a" stroke-width="0.8" />
<line x1="259.60" y1="235.38" x2="261.30" y2="235.38" stroke="#1a1a1a" stroke-width="0.8" />
<line x1="259.60" y1="230.44" x2="261.30" y2="230.44" stroke="#1a1a1a" stroke-width="0.8" />
<line x1="258.00" y1="225.50" x2="261.30" y2="225.50" stroke="#1a1a1a" stroke-width="0.8" />
<line x1="259.60" y1="220.56" x2="261.30" y2="220.56" stroke="#1a1a1a" stroke-width="0.8" />
<line x1="259.60" y1="215.62" x2="261.30" y2="215.62" stroke="#1a1a1a" stroke-width="0.8" />
<line x1="259.60" y1="210.68" x2="261.30" y2="210.68" stroke="#1a1a1a" stroke-width="0.8" />
<line x1="259.60" y1="205.74" x2="261.30" y2="205.74" stroke="#1a1a1a" stroke-width="0.8" />
<line x1="258.00" y1="200.80" x2="261.30" y2="200.80" stroke="#1a1a1a" stroke-width="0.8" />
<text x="258.00" y="326.50" font-size="7.0" font-weight="bold" text-anchor="end" fill="#111" >0</text>
<text x="258.00" y="301.80" font-size="7.0" font-weight="bold" text-anchor="end" fill="#111" >2</text>
<text x="258.00" y="277.10" font-size="7.0" font-weight="bold" text-anchor="end" fill="#111" >4</text>
<text x="258.00" y="252.40" font-size="7.0" font-weight="bold" text-anchor="end" fill="#111" >6</text>
<text x="258.00" y="227.70" font-size="7.0" font-weight="bold" text-anchor="end" fill="#111" >8</text>
<text x="258.00" y="203.00" font-size="7.0" font-weight="bold" text-anchor="end" fill="#111" >10</text>
<rect x="273.60" y="249.58" width="11.50" height="74.72" fill="#f4aba5" stroke="#3c3c44" stroke-width="0.9"/>
<rect x="285.10" y="245.38" width="11.50" height="78.92" fill="#a9b9dc" stroke="#3c3c44" stroke-width="0.9"/>
<line x1="278.35" y1="249.58" x2="278.35" y2="266.25" stroke="#e8352a" stroke-width="1.05" />
<line x1="275.05" y1="266.25" x2="281.65" y2="266.25" stroke="#e8352a" stroke-width="1.05" />
<line x1="278.35" y1="249.58" x2="278.35" y2="241.56" stroke="#e8352a" stroke-width="1.05" />
<line x1="275.05" y1="241.56" x2="281.65" y2="241.56" stroke="#e8352a" stroke-width="1.05" />
<circle cx="278.35" cy="249.58" r="1.8" fill="#e8352a"/>
<line x1="291.75" y1="245.38" x2="291.75" y2="249.09" stroke="#2a53a8" stroke-width="1.05" />
<line x1="288.75" y1="249.09" x2="294.75" y2="249.09" stroke="#2a53a8" stroke-width="1.05" />
<line x1="291.75" y1="245.38" x2="291.75" y2="229.45" stroke="#2a53a8" stroke-width="1.05" />
<line x1="288.75" y1="229.45" x2="294.75" y2="229.45" stroke="#2a53a8" stroke-width="1.05" />
<circle cx="291.75" cy="245.38" r="1.8" fill="#2a53a8"/>
<rect x="308.35" y="303.06" width="11.50" height="21.24" fill="#f4aba5" stroke="#3c3c44" stroke-width="0.9"/>
<rect x="319.85" y="301.70" width="11.50" height="22.60" fill="#a9b9dc" stroke="#3c3c44" stroke-width="0.9"/>
<line x1="313.10" y1="303.06" x2="313.10" y2="303.68" stroke="#e8352a" stroke-width="1.05" />
<line x1="309.80" y1="303.68" x2="316.40" y2="303.68" stroke="#e8352a" stroke-width="1.05" />
<line x1="313.10" y1="303.06" x2="313.10" y2="302.44" stroke="#e8352a" stroke-width="1.05" />
<line x1="309.80" y1="302.44" x2="316.40" y2="302.44" stroke="#e8352a" stroke-width="1.05" />
<circle cx="313.10" cy="303.06" r="1.8" fill="#e8352a"/>
<line x1="326.50" y1="301.70" x2="326.50" y2="302.32" stroke="#2a53a8" stroke-width="1.05" />
<line x1="323.50" y1="302.32" x2="329.50" y2="302.32" stroke="#2a53a8" stroke-width="1.05" />
<line x1="326.50" y1="301.70" x2="326.50" y2="300.59" stroke="#2a53a8" stroke-width="1.05" />
<line x1="323.50" y1="300.59" x2="329.50" y2="300.59" stroke="#2a53a8" stroke-width="1.05" />
<circle cx="326.50" cy="301.70" r="1.8" fill="#2a53a8"/>
<rect x="343.10" y="261.44" width="11.50" height="62.86" fill="#f4aba5" stroke="#3c3c44" stroke-width="0.9"/>
<rect x="354.60" y="255.76" width="11.50" height="68.54" fill="#a9b9dc" stroke="#3c3c44" stroke-width="0.9"/>
<line x1="347.85" y1="261.44" x2="347.85" y2="273.42" stroke="#e8352a" stroke-width="1.05" />
<line x1="344.55" y1="273.42" x2="351.15" y2="273.42" stroke="#e8352a" stroke-width="1.05" />
<line x1="347.85" y1="261.44" x2="347.85" y2="250.32" stroke="#e8352a" stroke-width="1.05" />
<line x1="344.55" y1="250.32" x2="351.15" y2="250.32" stroke="#e8352a" stroke-width="1.05" />
<circle cx="347.85" cy="261.44" r="1.8" fill="#e8352a"/>
<line x1="361.25" y1="255.76" x2="361.25" y2="265.02" stroke="#2a53a8" stroke-width="1.05" />
<line x1="358.25" y1="265.02" x2="364.25" y2="265.02" stroke="#2a53a8" stroke-width="1.05" />
<line x1="361.25" y1="255.76" x2="361.25" y2="243.41" stroke="#2a53a8" stroke-width="1.05" />
<line x1="358.25" y1="243.41" x2="364.25" y2="243.41" stroke="#2a53a8" stroke-width="1.05" />
<circle cx="361.25" cy="255.76" r="1.8" fill="#2a53a8"/>
<rect x="377.85" y="268.23" width="11.50" height="56.07" fill="#f4aba5" stroke="#3c3c44" stroke-width="0.9"/>
<rect x="389.35" y="236.62" width="11.50" height="87.69" fill="#a9b9dc" stroke="#3c3c44" stroke-width="0.9"/>
<line x1="382.60" y1="268.23" x2="382.60" y2="278.23" stroke="#e8352a" stroke-width="1.05" />
<line x1="379.30" y1="278.23" x2="385.90" y2="278.23" stroke="#e8352a" stroke-width="1.05" />
<line x1="382.60" y1="268.23" x2="382.60" y2="258.35" stroke="#e8352a" stroke-width="1.05" />
<line x1="379.30" y1="258.35" x2="385.90" y2="258.35" stroke="#e8352a" stroke-width="1.05" />
<circle cx="382.60" cy="268.23" r="1.8" fill="#e8352a"/>
<line x1="396.00" y1="236.62" x2="396.00" y2="253.66" stroke="#2a53a8" stroke-width="1.05" />
<line x1="393.00" y1="253.66" x2="399.00" y2="253.66" stroke="#2a53a8" stroke-width="1.05" />
<line x1="396.00" y1="236.62" x2="396.00" y2="229.08" stroke="#2a53a8" stroke-width="1.05" />
<line x1="393.00" y1="229.08" x2="399.00" y2="229.08" stroke="#2a53a8" stroke-width="1.05" />
<circle cx="396.00" cy="236.62" r="1.8" fill="#2a53a8"/>
<rect x="412.60" y="270.95" width="11.50" height="53.35" fill="#f4aba5" stroke="#3c3c44" stroke-width="0.9"/>
<rect x="424.10" y="253.16" width="11.50" height="71.14" fill="#a9b9dc" stroke="#3c3c44" stroke-width="0.9"/>
<line x1="417.35" y1="270.95" x2="417.35" y2="282.93" stroke="#e8352a" stroke-width="1.05" />
<line x1="414.05" y1="282.93" x2="420.65" y2="282.93" stroke="#e8352a" stroke-width="1.05" />
<line x1="417.35" y1="270.95" x2="417.35" y2="269.96" stroke="#e8352a" stroke-width="1.05" />
<line x1="414.05" y1="269.96" x2="420.65" y2="269.96" stroke="#e8352a" stroke-width="1.05" />
<circle cx="417.35" cy="270.95" r="1.8" fill="#e8352a"/>
<line x1="430.75" y1="253.16" x2="430.75" y2="262.18" stroke="#2a53a8" stroke-width="1.05" />
<line x1="427.75" y1="262.18" x2="433.75" y2="262.18" stroke="#2a53a8" stroke-width="1.05" />
<line x1="430.75" y1="253.16" x2="430.75" y2="243.78" stroke="#2a53a8" stroke-width="1.05" />
<line x1="427.75" y1="243.78" x2="433.75" y2="243.78" stroke="#2a53a8" stroke-width="1.05" />
<circle cx="430.75" cy="253.16" r="1.8" fill="#2a53a8"/>
<line x1="261.30" y1="324.30" x2="446.70" y2="324.30" stroke="#1a1a1a" stroke-width="0.9" />
<line x1="285.10" y1="324.30" x2="285.10" y2="326.50" stroke="#1a1a1a" stroke-width="0.8" />
<line x1="319.85" y1="324.30" x2="319.85" y2="326.50" stroke="#1a1a1a" stroke-width="0.8" />
<line x1="354.60" y1="324.30" x2="354.60" y2="326.50" stroke="#1a1a1a" stroke-width="0.8" />
<line x1="389.35" y1="324.30" x2="389.35" y2="326.50" stroke="#1a1a1a" stroke-width="0.8" />
<line x1="424.10" y1="324.30" x2="424.10" y2="326.50" stroke="#1a1a1a" stroke-width="0.8" />
<text x="285.10" y="334.10" font-size="7.3" font-weight="bold" text-anchor="middle" fill="#1a1a1a" >Baseline</text>
<text x="318.05" y="334.10" font-size="7.3" font-weight="bold" text-anchor="middle" fill="#1a1a1a" >iCPR</text>
<text x="354.00" y="334.10" font-size="7.3" font-weight="bold" text-anchor="middle" fill="#1a1a1a" >30min.</text>
<text x="389.55" y="334.10" font-size="7.3" font-weight="bold" text-anchor="middle" fill="#1a1a1a" >180min.</text>
<text x="424.10" y="334.10" font-size="7.3" font-weight="bold" text-anchor="middle" fill="#1a1a1a" >5hr.</text>
<text x="424.10" y="342.60" font-size="7.3" font-weight="bold" text-anchor="middle" fill="#1a1a1a" >(Impella ex.)</text>
<text x="267.00" y="212.50" font-size="5.38" font-weight="normal" text-anchor="start" fill="#000" stroke="#000" stroke-width="0.14">Time x group </text>
<text x="299.90" y="212.50" font-size="5.38" fill="#000" stroke="#000" stroke-width="0.14"><tspan font-style="italic">p</tspan>=0.140</text>
<text x="267.00" y="219.00" font-size="5.38" font-weight="normal" text-anchor="start" fill="#000" stroke="#000" stroke-width="0.14">Time</text>
<text x="299.90" y="219.00" font-size="5.38" fill="#000" stroke="#000" stroke-width="0.14"><tspan font-style="italic">p</tspan>&lt;0.001</text>
<text x="267.00" y="225.60" font-size="5.38" font-weight="normal" text-anchor="start" fill="#000" stroke="#000" stroke-width="0.14">Group</text>
<text x="299.90" y="225.60" font-size="5.38" fill="#000" stroke="#000" stroke-width="0.14"><tspan font-style="italic">p</tspan>=0.090</text>
<line x1="401.20" y1="211.00" x2="408.80" y2="211.00" stroke="#2a53a8" stroke-width="1.4" />
<circle cx="405.00" cy="211.00" r="1.9" fill="#2a53a8"/>
<text x="411.80" y="213.00" font-size="5.8" font-weight="normal" text-anchor="start" fill="#000" stroke="#000" stroke-width="0.12">20 ppm</text>
<line x1="401.20" y1="219.80" x2="408.80" y2="219.80" stroke="#e8352a" stroke-width="1.4" />
<circle cx="405.00" cy="219.80" r="1.9" fill="#e8352a"/>
<text x="411.80" y="221.80" font-size="5.8" font-weight="normal" text-anchor="start" fill="#000" stroke="#000" stroke-width="0.12">0 ppm</text>
<polygon points="389.30,219.55 389.84,220.76 391.15,220.90 390.17,221.78 390.45,223.08 389.30,222.42 388.15,223.08 388.43,221.78 387.45,220.90 388.76,220.76" fill="#e8352a"/>
<polygon points="389.30,225.25 389.84,226.46 391.15,226.60 390.17,227.48 390.45,228.78 389.30,228.12 388.15,228.78 388.43,227.48 387.45,226.60 388.76,226.46" fill="#111"/>
<polygon points="424.10,235.05 424.64,236.26 425.95,236.40 424.97,237.28 425.25,238.58 424.10,237.92 422.95,238.58 423.23,237.28 422.25,236.40 423.56,236.26" fill="#e8352a"/>
<polygon points="424.10,239.35 424.64,240.56 425.95,240.70 424.97,241.58 425.25,242.88 424.10,242.22 422.95,242.88 423.23,241.58 422.25,240.70 423.56,240.56" fill="#111"/>
<line x1="461.1" y1="1.4" x2="662.8" y2="1.4" stroke="#585c9e" stroke-width="1.1"/>
<line x1="461.1" y1="20.2" x2="662.8" y2="20.2" stroke="#585c9e" stroke-width="1.2"/>
<line x1="461.1" y1="1.4" x2="461.1" y2="20.2" stroke="#585c9e" stroke-width="0.8"/>
<polyline points="662.8,20.2 662.8,46.8 685,46.8" fill="none" stroke="#e4e4e4" stroke-width="0.6"/>
<text x="462" y="7.9" font-size="5.3" font-weight="bold" fill="#3c3f96" textLength="14.4" lengthAdjust="spacingAndGlyphs" font-family="Liberation Sans, sans-serif">LOCAL:</text>
<text x="478.7" y="7.9" font-size="5.3" fill="#6a6a6a" textLength="45.5" lengthAdjust="spacingAndGlyphs" font-family="Liberation Sans, sans-serif">Longitudinal Strain (%)</text>
<line x1="461.2" y1="20.2" x2="461.2" y2="333" stroke="#cdcdcd" stroke-width="1.0"/>
<line x1="684.2" y1="46.8" x2="684.2" y2="333.6" stroke="#999" stroke-width="1.0"/>
<line x1="461.7" y1="55.3" x2="685" y2="55.3" stroke="#7a7a7a" stroke-width="0.8"/>
<line x1="461.7" y1="90.7" x2="685" y2="90.7" stroke="#7a7a7a" stroke-width="0.8"/>
<line x1="461.7" y1="125.5" x2="685" y2="125.5" stroke="#7a7a7a" stroke-width="0.8"/>
<line x1="461.7" y1="161.3" x2="685" y2="161.3" stroke="#7a7a7a" stroke-width="0.8"/>
<line x1="461.7" y1="196.3" x2="685" y2="196.3" stroke="#7a7a7a" stroke-width="0.8"/>
<line x1="461.7" y1="231.4" x2="685" y2="231.4" stroke="#7a7a7a" stroke-width="0.8"/>
<line x1="461.7" y1="266.9" x2="685" y2="266.9" stroke="#7a7a7a" stroke-width="0.8"/>
<line x1="461.3" y1="301.4" x2="685" y2="301.4" stroke="#555" stroke-width="0.9"/>
<defs><clipPath id="lc"><rect x="457" y="0" width="30" height="346"/></clipPath></defs>
<g clip-path="url(#lc)">
<rect x="458.2" y="52.9" width="3.0" height="4.8" fill="#fff"/>
<text x="458.40" y="57.2" font-size="5.2" textLength="2.6" lengthAdjust="spacingAndGlyphs" fill="#333" stroke="#333" stroke-width="0.3" font-family="Liberation Sans, sans-serif">6</text>
<rect x="458.2" y="88.3" width="3.0" height="4.8" fill="#fff"/>
<text x="458.40" y="92.6" font-size="5.2" textLength="2.6" lengthAdjust="spacingAndGlyphs" fill="#333" stroke="#333" stroke-width="0.3" font-family="Liberation Sans, sans-serif">0</text>
<rect x="458.2" y="123.2" width="3.0" height="4.8" fill="#fff"/>
<text x="458.40" y="127.5" font-size="5.2" textLength="2.6" lengthAdjust="spacingAndGlyphs" fill="#333" stroke="#333" stroke-width="0.3" font-family="Liberation Sans, sans-serif">6</text>
<rect x="456.9" y="158.8" width="4.3" height="4.8" fill="#fff"/>
<text x="457.10" y="163.1" font-size="5.2" textLength="3.9" lengthAdjust="spacingAndGlyphs" fill="#333" stroke="#333" stroke-width="0.3" font-family="Liberation Sans, sans-serif">12</text>
<rect x="456.9" y="193.8" width="4.3" height="4.8" fill="#fff"/>
<text x="457.10" y="198.1" font-size="5.2" textLength="3.9" lengthAdjust="spacingAndGlyphs" fill="#333" stroke="#333" stroke-width="0.3" font-family="Liberation Sans, sans-serif">18</text>
<rect x="456.9" y="229.1" width="4.3" height="4.8" fill="#fff"/>
<text x="457.10" y="233.4" font-size="5.2" textLength="3.9" lengthAdjust="spacingAndGlyphs" fill="#333" stroke="#333" stroke-width="0.3" font-family="Liberation Sans, sans-serif">24</text>
<rect x="456.9" y="264.5" width="4.3" height="4.8" fill="#fff"/>
<text x="457.10" y="268.8" font-size="5.2" textLength="3.9" lengthAdjust="spacingAndGlyphs" fill="#333" stroke="#333" stroke-width="0.3" font-family="Liberation Sans, sans-serif">30</text>
<rect x="456.9" y="299.0" width="4.3" height="4.8" fill="#fff"/>
<text x="457.10" y="303.3" font-size="5.2" textLength="3.9" lengthAdjust="spacingAndGlyphs" fill="#333" stroke="#333" stroke-width="0.3" font-family="Liberation Sans, sans-serif">36</text>
</g>
<line x1="555.5" y1="20.2" x2="555.5" y2="301.4" stroke="#f4c9cd" stroke-width="0.9"/>
<line x1="562.0" y1="20.2" x2="562.0" y2="301.4" stroke="#d2d2d2" stroke-width="1.5"/>
<line x1="628.8" y1="20.2" x2="628.8" y2="301.4" stroke="#a8a8a8" stroke-width="0.9"/>
<line x1="568.2" y1="20.2" x2="568.2" y2="333" stroke="#cc9fd8" stroke-width="1.7"/>
<line x1="495.5" y1="20.2" x2="495.5" y2="304" stroke="#585c9e" stroke-width="1.0"/>
<line x1="650.3" y1="20.2" x2="650.3" y2="304" stroke="#585c9e" stroke-width="1.0"/>
<text x="569.7" y="30.6" font-size="5.6" font-weight="bold" fill="#a848b8" textLength="8.2" lengthAdjust="spacingAndGlyphs" font-family="Liberation Sans, sans-serif">AVC</text>
<text x="469.3" y="38.2" font-size="14.6" font-weight="bold" fill="#000" font-family="Liberation Sans, sans-serif">e</text>
<path d="M461.20,106.00 C461.50,104.80 462.20,100.60 463.00,98.80 C463.80,97.00 465.03,95.73 466.00,95.20 C466.97,94.67 467.73,95.00 468.80,95.60 C469.87,96.20 471.20,97.75 472.40,98.80 C473.60,99.85 474.80,101.30 476.00,101.90 C477.20,102.50 478.38,102.68 479.60,102.40 C480.82,102.12 482.08,101.17 483.30,100.20 C484.52,99.23 485.58,97.68 486.90,96.60 C488.22,95.52 489.80,94.65 491.20,93.70 C492.60,92.75 493.50,90.98 495.30,90.90 C497.10,90.82 499.93,92.70 502.00,93.20 C504.07,93.70 505.68,93.52 507.70,93.90 C509.72,94.28 511.97,95.10 514.10,95.50 C516.23,95.90 518.38,95.90 520.50,96.30 C522.62,96.70 524.95,96.98 526.80,97.90 C528.65,98.82 530.00,100.08 531.60,101.80 C533.20,103.52 534.80,106.07 536.40,108.20 C538.00,110.33 539.62,112.67 541.20,114.60 C542.78,116.53 544.43,118.15 545.90,119.80 C547.37,121.45 548.80,122.98 550.00,124.50 C551.20,126.02 551.82,127.40 553.10,128.90 C554.38,130.40 556.15,132.53 557.70,133.50 C559.25,134.47 560.85,134.12 562.40,134.70 C563.95,135.28 565.65,135.85 567.00,137.00 C568.35,138.15 569.15,139.67 570.50,141.60 C571.85,143.53 573.57,146.60 575.10,148.60 C576.63,150.60 578.17,152.77 579.70,153.60 C581.23,154.43 583.03,154.53 584.30,153.60 C585.57,152.67 586.30,150.27 587.30,148.00 C588.30,145.73 589.30,142.67 590.30,140.00 C591.30,137.33 592.33,134.50 593.30,132.00 C594.27,129.50 595.15,127.37 596.10,125.00 C597.05,122.63 598.12,119.75 599.00,117.80 C599.88,115.85 600.67,114.38 601.40,113.30 C602.13,112.22 602.73,111.80 603.40,111.30 C604.07,110.80 604.72,110.37 605.40,110.30 C606.08,110.23 606.75,110.67 607.50,110.90 C608.25,111.13 609.10,111.50 609.90,111.70 C610.70,111.90 611.22,112.22 612.30,112.10 C613.38,111.98 615.05,111.47 616.40,111.00 C617.75,110.53 619.07,109.50 620.40,109.30 C621.73,109.10 623.05,109.97 624.40,109.80 C625.75,109.63 627.15,109.05 628.50,108.30 C629.85,107.55 631.15,106.48 632.50,105.30 C633.85,104.12 635.27,102.67 636.60,101.20 C637.93,99.73 639.18,97.80 640.50,96.50 C641.82,95.20 642.88,94.37 644.50,93.40 C646.12,92.43 648.92,91.20 650.20,90.70 C651.48,90.20 650.87,90.33 652.20,90.40 C653.53,90.47 656.18,90.80 658.20,91.10 C660.22,91.40 662.27,91.68 664.30,92.20 C666.33,92.72 668.53,93.37 670.40,94.20 C672.27,95.03 673.98,96.18 675.50,97.20 C677.02,98.22 677.92,99.62 679.50,100.30 C681.08,100.98 684.08,101.13 685.00,101.30" fill="none" stroke="#4cc3d6" stroke-width="1.0" stroke-linejoin="round" />
<path d="M461.10,144.50 C461.45,143.55 462.42,141.05 463.20,138.80 C463.98,136.55 465.08,133.45 465.80,131.00 C466.52,128.55 466.92,126.42 467.50,124.10 C468.08,121.78 468.63,119.70 469.30,117.10 C469.97,114.50 470.98,110.35 471.50,108.50 C472.02,106.65 471.77,108.10 472.40,106.00 C473.03,103.90 474.33,98.92 475.30,95.90 C476.27,92.88 477.35,90.55 478.20,87.90 C479.05,85.25 479.60,81.90 480.40,80.00 C481.20,78.10 482.15,77.00 483.00,76.50 C483.85,76.00 484.67,76.50 485.50,77.00 C486.33,77.50 487.25,78.47 488.00,79.50 C488.75,80.53 489.25,81.87 490.00,83.20 C490.75,84.53 491.63,86.22 492.50,87.50 C493.37,88.78 494.25,88.90 495.20,90.90 C496.15,92.90 497.17,96.73 498.20,99.50 C499.23,102.27 500.35,105.28 501.40,107.50 C502.45,109.72 503.45,111.22 504.50,112.80 C505.55,114.38 506.63,115.38 507.70,117.00 C508.77,118.62 509.93,120.83 510.90,122.50 C511.87,124.17 512.57,125.67 513.50,127.00 C514.43,128.33 515.35,129.28 516.50,130.50 C517.65,131.72 518.98,131.55 520.40,134.30 C521.82,137.05 523.45,142.77 525.00,147.00 C526.55,151.23 528.28,156.12 529.70,159.70 C531.12,163.28 532.00,165.92 533.50,168.50 C535.00,171.08 536.75,173.43 538.70,175.20 C540.65,176.97 543.25,177.37 545.20,179.10 C547.15,180.83 548.67,183.00 550.40,185.60 C552.13,188.20 553.87,192.10 555.60,194.70 C557.33,197.30 559.28,199.47 560.80,201.20 C562.32,202.93 563.40,204.45 564.70,205.10 C566.00,205.75 567.30,205.75 568.60,205.10 C569.90,204.45 571.20,202.72 572.50,201.20 C573.80,199.68 575.48,197.67 576.40,196.00 C577.32,194.33 577.08,193.08 578.00,191.20 C578.92,189.32 580.60,186.43 581.90,184.70 C583.20,182.97 584.28,181.37 585.80,180.80 C587.32,180.23 589.48,181.52 591.00,181.30 C592.52,181.08 593.60,180.45 594.90,179.50 C596.20,178.55 597.28,176.90 598.80,175.60 C600.32,174.30 602.23,173.05 604.00,171.70 C605.77,170.35 607.82,168.87 609.40,167.50 C610.98,166.13 612.37,165.42 613.50,163.50 C614.63,161.58 615.38,158.92 616.20,156.00 C617.02,153.08 617.55,149.42 618.40,146.00 C619.25,142.58 620.37,138.93 621.30,135.50 C622.23,132.07 623.27,128.77 624.00,125.40 C624.73,122.03 625.22,118.68 625.70,115.30 C626.18,111.92 626.45,108.48 626.90,105.10 C627.35,101.72 627.80,98.68 628.40,95.00 C629.00,91.32 629.73,86.25 630.50,83.00 C631.27,79.75 632.17,76.93 633.00,75.50 C633.83,74.07 634.67,74.32 635.50,74.40 C636.33,74.48 637.17,74.83 638.00,76.00 C638.83,77.17 639.50,79.40 640.50,81.40 C641.50,83.40 642.92,86.48 644.00,88.00 C645.08,89.52 645.97,90.05 647.00,90.50 C648.03,90.95 649.00,89.58 650.20,90.70 C651.40,91.82 652.87,94.93 654.20,97.20 C655.53,99.47 656.85,101.77 658.20,104.30 C659.55,106.83 660.93,109.70 662.30,112.40 C663.67,115.10 665.05,117.78 666.40,120.50 C667.75,123.22 669.05,125.98 670.40,128.70 C671.75,131.42 673.15,134.45 674.50,136.80 C675.85,139.15 677.15,140.95 678.50,142.80 C679.85,144.65 681.52,146.70 682.60,147.90 C683.68,149.10 684.60,149.65 685.00,150.00" fill="none" stroke="#3fae3a" stroke-width="1.0" stroke-linejoin="round" />
<path d="M461.10,155.30 C461.30,154.15 461.80,151.00 462.30,148.40 C462.80,145.80 463.37,143.03 464.10,139.70 C464.83,136.37 465.88,131.02 466.70,128.40 C467.52,125.78 468.33,125.48 469.00,124.00 C469.67,122.52 470.15,121.17 470.70,119.50 C471.25,117.83 471.70,116.08 472.30,114.00 C472.90,111.92 473.38,110.00 474.30,107.00 C475.22,104.00 476.57,99.22 477.80,96.00 C479.03,92.78 480.58,90.03 481.70,87.70 C482.82,85.37 483.70,83.42 484.50,82.00 C485.30,80.58 485.87,79.82 486.50,79.20 C487.13,78.58 487.72,78.30 488.30,78.30 C488.88,78.30 489.38,78.42 490.00,79.20 C490.62,79.98 491.28,81.45 492.00,83.00 C492.72,84.55 493.77,87.18 494.30,88.50 C494.83,89.82 494.55,89.22 495.20,90.90 C495.85,92.58 497.17,95.98 498.20,98.60 C499.23,101.22 500.35,104.47 501.40,106.60 C502.45,108.73 503.45,109.90 504.50,111.40 C505.55,112.90 506.63,114.00 507.70,115.60 C508.77,117.20 509.93,119.10 510.90,121.00 C511.87,122.90 512.68,124.92 513.50,127.00 C514.32,129.08 514.65,130.55 515.80,133.50 C516.95,136.45 518.67,140.92 520.40,144.70 C522.13,148.48 524.27,152.35 526.20,156.20 C528.13,160.05 530.13,164.42 532.00,167.80 C533.87,171.18 535.42,173.97 537.40,176.50 C539.38,179.03 541.73,180.83 543.90,183.00 C546.07,185.17 548.45,187.33 550.40,189.50 C552.35,191.67 553.87,193.83 555.60,196.00 C557.33,198.17 558.85,200.77 560.80,202.50 C562.75,204.23 565.35,205.32 567.30,206.40 C569.25,207.48 570.93,208.05 572.50,209.00 C574.07,209.95 575.35,211.80 576.70,212.10 C578.05,212.40 579.08,211.67 580.60,210.80 C582.12,209.93 584.07,208.87 585.80,206.90 C587.53,204.93 589.48,202.05 591.00,199.00 C592.52,195.95 593.60,191.85 594.90,188.60 C596.20,185.35 597.50,182.10 598.80,179.50 C600.10,176.90 601.40,174.73 602.70,173.00 C604.00,171.27 605.38,170.22 606.60,169.10 C607.82,167.98 608.73,167.60 610.00,166.30 C611.27,165.00 613.15,163.43 614.20,161.30 C615.25,159.17 615.65,156.10 616.30,153.50 C616.95,150.90 617.30,148.70 618.10,145.70 C618.90,142.70 620.15,138.88 621.10,135.50 C622.05,132.12 623.02,128.77 623.80,125.40 C624.58,122.03 625.23,118.68 625.80,115.30 C626.37,111.92 626.73,108.48 627.20,105.10 C627.67,101.72 628.07,98.35 628.60,95.00 C629.13,91.65 629.67,88.17 630.40,85.00 C631.13,81.83 631.98,78.28 633.00,76.00 C634.02,73.72 635.58,72.20 636.50,71.30 C637.42,70.40 637.62,70.43 638.50,70.60 C639.38,70.77 640.72,71.03 641.80,72.30 C642.88,73.57 644.00,76.03 645.00,78.20 C646.00,80.37 646.95,83.17 647.80,85.30 C648.65,87.43 649.03,88.17 650.10,91.00 C651.17,93.83 652.85,98.38 654.20,102.30 C655.55,106.22 656.85,110.45 658.20,114.50 C659.55,118.55 660.93,122.88 662.30,126.60 C663.67,130.32 665.20,133.65 666.40,136.80 C667.60,139.95 668.37,142.38 669.50,145.50 C670.63,148.62 671.82,152.50 673.20,155.50 C674.58,158.50 676.25,161.67 677.80,163.50 C679.35,165.33 681.30,165.92 682.50,166.50 C683.70,167.08 684.58,166.92 685.00,167.00" fill="none" stroke="#f08a2a" stroke-width="1.0" stroke-linejoin="round" />
<path d="M461.50,129.30 C461.78,130.02 462.63,132.58 463.20,133.60 C463.77,134.62 464.32,135.40 464.90,135.40 C465.48,135.40 466.12,134.62 466.70,133.60 C467.28,132.58 467.83,130.88 468.40,129.30 C468.97,127.72 469.52,125.83 470.10,124.10 C470.68,122.37 471.32,120.63 471.90,118.90 C472.48,117.17 473.02,115.43 473.60,113.70 C474.18,111.97 474.87,110.52 475.40,108.50 C475.93,106.48 476.10,104.18 476.80,101.60 C477.50,99.02 478.65,95.28 479.60,93.00 C480.55,90.72 481.65,89.05 482.50,87.90 C483.35,86.75 483.85,86.22 484.70,86.10 C485.55,85.98 486.52,86.65 487.60,87.20 C488.68,87.75 489.92,88.78 491.20,89.40 C492.48,90.02 493.90,89.50 495.30,90.90 C496.70,92.30 498.12,95.50 499.60,97.80 C501.08,100.10 502.85,102.77 504.20,104.70 C505.55,106.63 506.65,108.22 507.70,109.40 C508.75,110.58 509.53,111.17 510.50,111.80 C511.47,112.43 512.23,113.12 513.50,113.20 C514.77,113.28 516.75,112.25 518.10,112.30 C519.45,112.35 520.45,112.53 521.60,113.50 C522.75,114.47 523.60,115.92 525.00,118.10 C526.40,120.28 528.40,124.22 530.00,126.60 C531.60,128.98 533.07,130.08 534.60,132.40 C536.13,134.72 537.65,138.00 539.20,140.50 C540.75,143.00 542.35,145.28 543.90,147.40 C545.45,149.52 546.97,151.35 548.50,153.20 C550.03,155.05 551.85,157.07 553.10,158.50 C554.35,159.93 555.10,161.08 556.00,161.80 C556.90,162.52 557.43,162.60 558.50,162.80 C559.57,163.00 561.15,163.00 562.40,163.00 C563.65,163.00 565.02,163.08 566.00,162.80 C566.98,162.52 567.50,162.22 568.30,161.30 C569.10,160.38 569.67,159.42 570.80,157.30 C571.93,155.18 573.62,151.60 575.10,148.60 C576.58,145.60 578.17,141.62 579.70,139.30 C581.23,136.98 582.90,135.55 584.30,134.70 C585.70,133.85 586.80,134.08 588.10,134.20 C589.40,134.32 590.75,135.85 592.10,135.40 C593.45,134.95 594.85,132.73 596.20,131.50 C597.55,130.27 598.87,129.42 600.20,128.00 C601.53,126.58 602.85,124.77 604.20,123.00 C605.55,121.23 607.12,119.18 608.30,117.40 C609.48,115.62 610.30,114.07 611.30,112.30 C612.30,110.53 613.28,108.18 614.30,106.80 C615.32,105.42 616.38,104.72 617.40,104.00 C618.42,103.28 619.40,103.42 620.40,102.50 C621.40,101.58 622.38,100.17 623.40,98.50 C624.42,96.83 625.48,94.42 626.50,92.50 C627.52,90.58 628.52,88.70 629.50,87.00 C630.48,85.30 631.42,83.58 632.40,82.30 C633.38,81.02 634.40,79.63 635.40,79.30 C636.40,78.97 637.38,79.63 638.40,80.30 C639.42,80.97 640.48,81.95 641.50,83.30 C642.52,84.65 643.50,87.08 644.50,88.40 C645.50,89.72 646.55,90.82 647.50,91.20 C648.45,91.58 649.08,89.18 650.20,90.70 C651.32,92.22 652.87,97.02 654.20,100.30 C655.53,103.58 656.85,107.37 658.20,110.40 C659.55,113.43 660.93,116.63 662.30,118.50 C663.67,120.37 665.05,121.08 666.40,121.60 C667.75,122.12 669.05,122.12 670.40,121.60 C671.75,121.08 673.15,119.42 674.50,118.50 C675.85,117.58 677.32,116.27 678.50,116.10 C679.68,115.93 680.52,116.77 681.60,117.50 C682.68,118.23 684.43,120.00 685.00,120.50" fill="none" stroke="#a943b8" stroke-width="1.0" stroke-linejoin="round" />
<circle cx="470.47" cy="115.05" r="0.72" fill="#262626"/>
<circle cx="473.60" cy="108.20" r="0.72" fill="#262626"/>
<circle cx="476.73" cy="102.54" r="0.72" fill="#262626"/>
<circle cx="479.86" cy="95.41" r="0.72" fill="#262626"/>
<circle cx="482.99" cy="90.98" r="0.72" fill="#262626"/>
<circle cx="486.12" cy="88.69" r="0.72" fill="#262626"/>
<circle cx="489.25" cy="88.59" r="0.72" fill="#262626"/>
<circle cx="492.38" cy="90.00" r="0.72" fill="#262626"/>
<circle cx="495.51" cy="91.03" r="0.72" fill="#262626"/>
<circle cx="498.64" cy="93.41" r="0.72" fill="#262626"/>
<circle cx="501.77" cy="96.50" r="0.72" fill="#262626"/>
<circle cx="504.90" cy="100.01" r="0.72" fill="#262626"/>
<circle cx="508.03" cy="104.03" r="0.72" fill="#262626"/>
<circle cx="511.16" cy="108.15" r="0.72" fill="#262626"/>
<circle cx="514.29" cy="111.56" r="0.72" fill="#262626"/>
<circle cx="517.42" cy="113.70" r="0.72" fill="#262626"/>
<circle cx="520.55" cy="115.09" r="0.72" fill="#262626"/>
<circle cx="523.68" cy="117.72" r="0.72" fill="#262626"/>
<circle cx="526.81" cy="121.28" r="0.72" fill="#262626"/>
<circle cx="529.94" cy="125.57" r="0.72" fill="#262626"/>
<circle cx="533.07" cy="129.75" r="0.72" fill="#262626"/>
<circle cx="536.20" cy="133.04" r="0.72" fill="#262626"/>
<circle cx="539.33" cy="137.17" r="0.72" fill="#262626"/>
<circle cx="542.46" cy="141.11" r="0.72" fill="#262626"/>
<circle cx="545.59" cy="144.57" r="0.72" fill="#262626"/>
<circle cx="548.72" cy="147.62" r="0.72" fill="#262626"/>
<circle cx="551.85" cy="150.87" r="0.72" fill="#262626"/>
<circle cx="554.98" cy="153.43" r="0.72" fill="#262626"/>
<circle cx="558.11" cy="155.18" r="0.72" fill="#262626"/>
<circle cx="561.24" cy="156.11" r="0.72" fill="#262626"/>
<circle cx="564.37" cy="155.95" r="0.72" fill="#262626"/>
<circle cx="567.50" cy="154.75" r="0.72" fill="#262626"/>
<circle cx="570.63" cy="152.63" r="0.72" fill="#262626"/>
<circle cx="573.76" cy="150.77" r="0.72" fill="#262626"/>
<circle cx="576.89" cy="149.17" r="0.72" fill="#262626"/>
<circle cx="580.02" cy="147.79" r="0.72" fill="#262626"/>
<circle cx="583.15" cy="146.60" r="0.72" fill="#262626"/>
<circle cx="586.28" cy="144.78" r="0.72" fill="#262626"/>
<circle cx="589.41" cy="142.76" r="0.72" fill="#262626"/>
<circle cx="592.54" cy="138.83" r="0.72" fill="#262626"/>
<circle cx="595.67" cy="134.61" r="0.72" fill="#262626"/>
<circle cx="598.80" cy="130.66" r="0.72" fill="#262626"/>
<circle cx="601.93" cy="126.85" r="0.72" fill="#262626"/>
<circle cx="605.06" cy="122.75" r="0.72" fill="#262626"/>
<circle cx="608.19" cy="117.50" r="0.72" fill="#262626"/>
<circle cx="611.32" cy="111.34" r="0.72" fill="#262626"/>
<circle cx="614.45" cy="107.64" r="0.72" fill="#262626"/>
<circle cx="617.58" cy="104.87" r="0.72" fill="#262626"/>
<circle cx="620.71" cy="101.96" r="0.72" fill="#262626"/>
<circle cx="623.84" cy="97.86" r="0.72" fill="#262626"/>
<circle cx="626.97" cy="91.65" r="0.72" fill="#262626"/>
<circle cx="630.10" cy="85.41" r="0.72" fill="#262626"/>
<circle cx="633.23" cy="81.98" r="0.72" fill="#262626"/>
<circle cx="636.36" cy="81.26" r="0.72" fill="#262626"/>
<circle cx="639.49" cy="81.84" r="0.72" fill="#262626"/>
<circle cx="642.62" cy="84.32" r="0.72" fill="#262626"/>
<circle cx="645.75" cy="87.60" r="0.72" fill="#262626"/>
<circle cx="648.88" cy="89.30" r="0.72" fill="#262626"/>
<circle cx="652.01" cy="94.12" r="0.72" fill="#262626"/>
<circle cx="655.14" cy="101.18" r="0.72" fill="#262626"/>
<circle cx="658.27" cy="106.92" r="0.72" fill="#262626"/>
<circle cx="661.40" cy="112.30" r="0.72" fill="#262626"/>
<circle cx="664.53" cy="117.43" r="0.72" fill="#262626"/>
<circle cx="667.66" cy="121.19" r="0.72" fill="#262626"/>
<circle cx="670.79" cy="123.90" r="0.72" fill="#262626"/>
<circle cx="673.92" cy="125.80" r="0.72" fill="#262626"/>
<circle cx="677.05" cy="127.31" r="0.72" fill="#262626"/>
<circle cx="680.18" cy="128.57" r="0.72" fill="#262626"/>
<path d="M461.20,116.80 C461.63,117.65 462.77,120.82 463.80,121.90 C464.83,122.98 466.20,123.43 467.40,123.30 C468.60,123.17 469.80,122.30 471.00,121.10 C472.20,119.90 473.40,118.13 474.60,116.10 C475.80,114.07 477.00,111.07 478.20,108.90 C479.40,106.73 480.60,104.78 481.80,103.10 C483.00,101.42 484.20,100.00 485.40,98.80 C486.60,97.60 487.80,96.82 489.00,95.90 C490.20,94.98 491.55,94.13 492.60,93.30 C493.65,92.47 494.32,92.03 495.30,90.90 C496.28,89.77 497.45,87.78 498.50,86.50 C499.55,85.22 500.72,83.45 501.60,83.20 C502.48,82.95 502.97,83.87 503.80,85.00 C504.63,86.13 505.73,88.17 506.60,90.00 C507.47,91.83 508.18,94.37 509.00,96.00 C509.82,97.63 510.38,99.33 511.50,99.80 C512.62,100.27 514.20,99.10 515.70,98.80 C517.20,98.50 518.65,98.17 520.50,98.00 C522.35,97.83 524.68,97.80 526.80,97.80 C528.92,97.80 531.58,97.72 533.20,98.00 C534.82,98.28 535.53,98.75 536.50,99.50 C537.47,100.25 537.97,101.05 539.00,102.50 C540.03,103.95 541.28,106.05 542.70,108.20 C544.12,110.35 546.17,113.67 547.50,115.40 C548.83,117.13 549.65,117.77 550.70,118.60 C551.75,119.43 552.63,120.45 553.80,120.40 C554.97,120.35 556.27,119.38 557.70,118.30 C559.13,117.22 560.67,115.42 562.40,113.90 C564.13,112.38 566.57,110.93 568.10,109.20 C569.63,107.47 570.53,105.53 571.60,103.50 C572.67,101.47 573.53,99.03 574.50,97.00 C575.47,94.97 576.15,92.13 577.40,91.30 C578.65,90.47 580.27,91.88 582.00,92.00 C583.73,92.12 585.87,92.18 587.80,92.00 C589.73,91.82 591.87,91.28 593.60,90.90 C595.33,90.52 597.05,90.27 598.20,89.70 C599.35,89.13 599.70,88.73 600.50,87.50 C601.30,86.27 602.07,84.85 603.00,82.30 C603.93,79.75 605.08,75.58 606.10,72.20 C607.12,68.82 608.20,64.70 609.10,62.00 C610.00,59.30 610.82,57.58 611.50,56.00 C612.18,54.42 612.53,53.48 613.20,52.50 C613.87,51.52 614.78,50.18 615.50,50.10 C616.22,50.02 616.87,51.18 617.50,52.00 C618.13,52.82 618.52,53.33 619.30,55.00 C620.08,56.67 621.03,58.80 622.20,62.00 C623.37,65.20 624.95,71.15 626.30,74.20 C627.65,77.25 628.95,79.12 630.30,80.30 C631.65,81.48 633.05,81.30 634.40,81.30 C635.75,81.30 637.22,80.47 638.40,80.30 C639.58,80.13 640.48,79.80 641.50,80.30 C642.52,80.80 643.50,81.95 644.50,83.30 C645.50,84.65 646.55,87.17 647.50,88.40 C648.45,89.63 649.25,89.07 650.20,90.70 C651.15,92.33 652.20,95.25 653.20,98.20 C654.20,101.15 655.18,104.85 656.20,108.40 C657.22,111.95 658.28,115.95 659.30,119.50 C660.32,123.05 661.30,126.82 662.30,129.70 C663.30,132.58 664.28,135.28 665.30,136.80 C666.32,138.32 667.48,139.15 668.40,138.80 C669.32,138.45 669.97,136.90 670.80,134.70 C671.63,132.50 672.45,128.30 673.40,125.60 C674.35,122.90 675.32,120.35 676.50,118.50 C677.68,116.65 679.32,115.00 680.50,114.50 C681.68,114.00 682.85,115.08 683.60,115.50 C684.35,115.92 684.77,116.75 685.00,117.00" fill="none" stroke="#e0302a" stroke-width="1.0" stroke-linejoin="round" />
<path d="M461.20,110.30 C461.63,111.15 462.77,114.08 463.80,115.40 C464.83,116.72 466.20,117.60 467.40,118.20 C468.60,118.80 469.92,119.07 471.00,119.00 C472.08,118.93 472.82,118.65 473.90,117.80 C474.98,116.95 476.30,115.63 477.50,113.90 C478.70,112.17 479.90,109.45 481.10,107.40 C482.30,105.35 483.50,103.28 484.70,101.60 C485.90,99.92 487.10,98.50 488.30,97.30 C489.50,96.10 490.73,95.47 491.90,94.40 C493.07,93.33 494.37,92.38 495.30,90.90 C496.23,89.42 496.80,87.23 497.50,85.50 C498.20,83.77 498.77,81.68 499.50,80.50 C500.23,79.32 501.10,78.48 501.90,78.40 C502.70,78.32 503.53,79.15 504.30,80.00 C505.07,80.85 505.73,82.27 506.50,83.50 C507.27,84.73 507.73,85.78 508.90,87.40 C510.07,89.02 511.97,91.85 513.50,93.20 C515.03,94.55 516.57,95.43 518.10,95.50 C519.63,95.57 521.15,94.57 522.70,93.60 C524.25,92.63 525.85,90.93 527.40,89.70 C528.95,88.47 530.60,86.97 532.00,86.20 C533.40,85.43 534.60,84.90 535.80,85.10 C537.00,85.30 537.85,85.48 539.20,87.40 C540.55,89.32 542.35,94.02 543.90,96.60 C545.45,99.18 546.97,101.73 548.50,102.90 C550.03,104.07 551.57,103.68 553.10,103.60 C554.63,103.52 555.97,103.28 557.70,102.40 C559.43,101.52 561.57,99.65 563.50,98.30 C565.43,96.95 567.57,96.32 569.30,94.30 C571.03,92.28 572.55,88.32 573.90,86.20 C575.25,84.08 576.23,81.98 577.40,81.60 C578.57,81.22 579.63,83.13 580.90,83.90 C582.17,84.67 583.65,86.38 585.00,86.20 C586.35,86.02 587.77,84.03 589.00,82.80 C590.23,81.57 591.25,79.57 592.40,78.80 C593.55,78.03 594.73,78.03 595.90,78.20 C597.07,78.37 598.22,80.47 599.40,79.80 C600.58,79.13 601.88,76.65 603.00,74.20 C604.12,71.75 605.10,68.38 606.10,65.10 C607.10,61.82 608.03,57.77 609.00,54.50 C609.97,51.23 611.07,47.67 611.90,45.50 C612.73,43.33 613.35,42.38 614.00,41.50 C614.65,40.62 615.20,40.20 615.80,40.20 C616.40,40.20 616.95,40.70 617.60,41.50 C618.25,42.30 618.83,42.92 619.70,45.00 C620.57,47.08 621.85,50.92 622.80,54.00 C623.75,57.08 624.53,60.42 625.40,63.50 C626.27,66.58 627.07,69.83 628.00,72.50 C628.93,75.17 630.08,78.25 631.00,79.50 C631.92,80.75 632.60,80.38 633.50,80.00 C634.40,79.62 635.42,78.00 636.40,77.20 C637.38,76.40 638.45,75.70 639.40,75.20 C640.35,74.70 641.25,73.87 642.10,74.20 C642.95,74.53 643.60,75.52 644.50,77.20 C645.40,78.88 646.55,82.05 647.50,84.30 C648.45,86.55 649.42,88.55 650.20,90.70 C650.98,92.85 651.37,94.58 652.20,97.20 C653.03,99.82 654.20,103.18 655.20,106.40 C656.20,109.62 657.18,112.78 658.20,116.50 C659.22,120.22 660.28,124.98 661.30,128.70 C662.32,132.42 663.45,136.38 664.30,138.80 C665.15,141.22 665.55,142.47 666.40,143.20 C667.25,143.93 668.57,144.10 669.40,143.20 C670.23,142.30 670.73,140.22 671.40,137.80 C672.07,135.38 672.55,131.75 673.40,128.70 C674.25,125.65 675.48,121.70 676.50,119.50 C677.52,117.30 678.48,116.00 679.50,115.50 C680.52,115.00 681.68,115.83 682.60,116.50 C683.52,117.17 684.60,119.00 685.00,119.50" fill="none" stroke="#353ca0" stroke-width="1.0" stroke-linejoin="round" />
<line x1="461.3" y1="333.6" x2="684.5" y2="333.6" stroke="#8a8a8a" stroke-width="0.85"/>
<line x1="461.1" y1="334.2" x2="461.1" y2="331.0" stroke="#585c9e" stroke-width="0.95"/>
<line x1="493.9" y1="334.2" x2="493.9" y2="331.0" stroke="#585c9e" stroke-width="0.95"/>
<line x1="527.2" y1="334.2" x2="527.2" y2="331.0" stroke="#585c9e" stroke-width="0.95"/>
<line x1="560.6" y1="334.2" x2="560.6" y2="331.0" stroke="#585c9e" stroke-width="0.95"/>
<line x1="593.6" y1="334.2" x2="593.6" y2="331.0" stroke="#585c9e" stroke-width="0.95"/>
<line x1="626.7" y1="334.2" x2="626.7" y2="331.0" stroke="#585c9e" stroke-width="0.95"/>
<line x1="660.0" y1="334.2" x2="660.0" y2="331.0" stroke="#585c9e" stroke-width="0.95"/>
<path d="M461.10,313.30 C462.40,313.40 466.22,313.43 468.90,313.90 C471.58,314.37 474.88,315.27 477.20,316.10 C479.52,316.93 481.40,318.35 482.80,318.90 C484.20,319.45 484.45,320.15 485.60,319.40 C486.75,318.65 488.32,316.48 489.70,314.40 C491.08,312.32 492.83,308.52 493.90,306.90 C494.97,305.28 495.18,304.55 496.10,304.70 C497.02,304.85 498.15,305.80 499.40,307.80 C500.65,309.80 502.20,314.20 503.60,316.70 C505.00,319.20 506.18,321.42 507.80,322.80 C509.42,324.18 510.53,324.60 513.30,325.00 C516.07,325.40 520.23,325.15 524.40,325.20 C528.57,325.25 534.58,325.20 538.30,325.30 C542.02,325.40 543.92,325.53 546.70,325.80 C549.48,326.07 552.23,326.43 555.00,326.90 C557.77,327.37 560.98,328.05 563.30,328.60 C565.62,329.15 567.23,329.60 568.90,330.20 C570.57,330.80 571.45,331.68 573.30,332.20 C575.15,332.72 577.88,333.13 580.00,333.30 C582.12,333.47 584.33,333.50 586.00,333.20 C587.67,332.90 588.67,332.37 590.00,331.50 C591.33,330.63 592.62,329.45 594.00,328.00 C595.38,326.55 596.42,324.72 598.30,322.80 C600.18,320.88 602.98,318.03 605.30,316.50 C607.62,314.97 609.65,314.03 612.20,313.60 C614.75,313.17 617.82,313.53 620.60,313.90 C623.38,314.27 626.37,315.07 628.90,315.80 C631.43,316.53 633.95,317.78 635.80,318.30 C637.65,318.82 638.60,319.73 640.00,318.90 C641.40,318.07 642.82,315.48 644.20,313.30 C645.58,311.12 647.28,307.28 648.30,305.80 C649.32,304.32 649.37,304.17 650.30,304.40 C651.23,304.63 652.60,304.92 653.90,307.20 C655.20,309.48 656.72,315.23 658.10,318.10 C659.48,320.97 660.35,323.07 662.20,324.40 C664.05,325.73 666.88,325.82 669.20,326.10 C671.52,326.38 673.57,326.10 676.10,326.10 C678.63,326.10 683.02,326.10 684.40,326.10" fill="none" stroke="#e0302a" stroke-width="0.9" stroke-linejoin="round" />
<circle cx="495.6" cy="304.4" r="1.2" fill="#585c9e"/>
<circle cx="650.3" cy="304.4" r="1.2" fill="#585c9e"/>
<line x1="555.2" y1="325" x2="555.2" y2="329.6" stroke="#2cb5c8" stroke-width="1.1"/>
<text x="562" y="307.2" font-size="4.6" text-anchor="middle" fill="#222" font-family="Liberation Sans, sans-serif">200</text>
<text x="628.5" y="307.2" font-size="4.6" text-anchor="middle" fill="#222" font-family="Liberation Sans, sans-serif">400</text>
</svg></body></html>
